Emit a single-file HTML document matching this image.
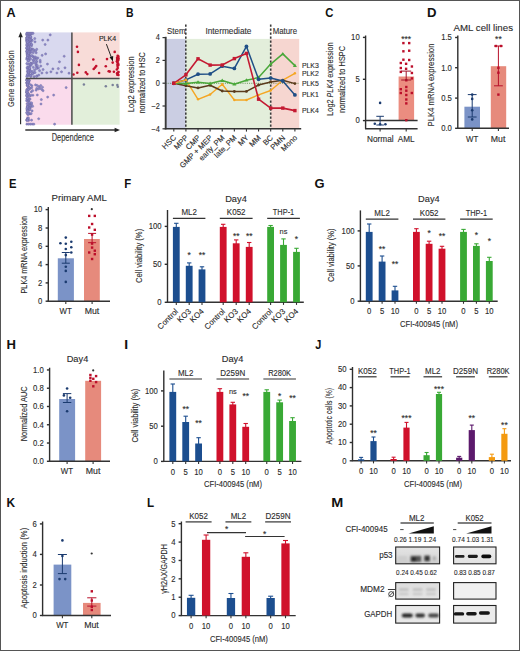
<!DOCTYPE html><html><head><meta charset="utf-8"><style>html,body{margin:0;padding:0;background:#fff;}svg{display:block;}text{font-family:"Liberation Sans",sans-serif;}</style></head><body>
<svg width="520" height="651" viewBox="0 0 520 651">
<rect x="0" y="0" width="520" height="651" fill="#fff"/>
<text x="6.6" y="17" font-size="12.2" fill="#111" font-weight="bold" textLength="9.13" lengthAdjust="spacingAndGlyphs">A</text>
<rect x="25.8" y="32.4" width="46.1" height="46" fill="#d9d9ef"/>
<rect x="71.9" y="32.4" width="47.7" height="46" fill="#f8dcd8"/>
<rect x="25.8" y="78.4" width="46.1" height="46.3" fill="#fadbec"/>
<rect x="71.9" y="78.4" width="47.7" height="46.3" fill="#e2efda"/>
<circle cx="29.14" cy="47.52" r="1.1" fill="#8d89cb" stroke="#6c689c" stroke-width="0.4"/>
<circle cx="30.13" cy="36.56" r="1.1" fill="#8d89cb" stroke="#6c689c" stroke-width="0.4"/>
<circle cx="27.86" cy="56.76" r="1.1" fill="#8d89cb" stroke="#6c689c" stroke-width="0.4"/>
<circle cx="27.37" cy="55.52" r="1.1" fill="#8d89cb" stroke="#6c689c" stroke-width="0.4"/>
<circle cx="27.64" cy="35.03" r="1.1" fill="#8d89cb" stroke="#6c689c" stroke-width="0.4"/>
<circle cx="27.06" cy="37.36" r="1.1" fill="#8d89cb" stroke="#6c689c" stroke-width="0.4"/>
<circle cx="27.32" cy="51.91" r="1.1" fill="#8d89cb" stroke="#6c689c" stroke-width="0.4"/>
<circle cx="27.97" cy="43.13" r="1.1" fill="#8d89cb" stroke="#6c689c" stroke-width="0.4"/>
<circle cx="33.43" cy="60.76" r="1.1" fill="#8d89cb" stroke="#6c689c" stroke-width="0.4"/>
<circle cx="27.87" cy="50.7" r="1.1" fill="#8d89cb" stroke="#6c689c" stroke-width="0.4"/>
<circle cx="37.01" cy="75.96" r="1.1" fill="#8d89cb" stroke="#6c689c" stroke-width="0.4"/>
<circle cx="28.31" cy="46.03" r="1.1" fill="#8d89cb" stroke="#6c689c" stroke-width="0.4"/>
<circle cx="28.5" cy="39.69" r="1.1" fill="#8d89cb" stroke="#6c689c" stroke-width="0.4"/>
<circle cx="29.79" cy="68.98" r="1.1" fill="#8d89cb" stroke="#6c689c" stroke-width="0.4"/>
<circle cx="30.33" cy="41.28" r="1.1" fill="#8d89cb" stroke="#6c689c" stroke-width="0.4"/>
<circle cx="28.7" cy="49.64" r="1.1" fill="#8d89cb" stroke="#6c689c" stroke-width="0.4"/>
<circle cx="28.38" cy="57.28" r="1.1" fill="#8d89cb" stroke="#6c689c" stroke-width="0.4"/>
<circle cx="27" cy="42.38" r="1.1" fill="#8d89cb" stroke="#6c689c" stroke-width="0.4"/>
<circle cx="30.89" cy="63.07" r="1.1" fill="#8d89cb" stroke="#6c689c" stroke-width="0.4"/>
<circle cx="28.7" cy="58.93" r="1.1" fill="#8d89cb" stroke="#6c689c" stroke-width="0.4"/>
<circle cx="28.24" cy="53.16" r="1.1" fill="#8d89cb" stroke="#6c689c" stroke-width="0.4"/>
<circle cx="35.91" cy="63.88" r="1.1" fill="#8d89cb" stroke="#6c689c" stroke-width="0.4"/>
<circle cx="29.87" cy="44.04" r="1.1" fill="#8d89cb" stroke="#6c689c" stroke-width="0.4"/>
<circle cx="29.63" cy="71.56" r="1.1" fill="#8d89cb" stroke="#6c689c" stroke-width="0.4"/>
<circle cx="30.24" cy="65.2" r="1.1" fill="#8d89cb" stroke="#6c689c" stroke-width="0.4"/>
<circle cx="34.76" cy="38.55" r="1.1" fill="#8d89cb" stroke="#6c689c" stroke-width="0.4"/>
<circle cx="26.68" cy="51.63" r="1.1" fill="#8d89cb" stroke="#6c689c" stroke-width="0.4"/>
<circle cx="28.32" cy="54.72" r="1.1" fill="#8d89cb" stroke="#6c689c" stroke-width="0.4"/>
<circle cx="29.11" cy="35.11" r="1.1" fill="#8d89cb" stroke="#6c689c" stroke-width="0.4"/>
<circle cx="34.75" cy="58.38" r="1.1" fill="#8d89cb" stroke="#6c689c" stroke-width="0.4"/>
<circle cx="29.91" cy="71.57" r="1.1" fill="#8d89cb" stroke="#6c689c" stroke-width="0.4"/>
<circle cx="34.41" cy="59.31" r="1.1" fill="#8d89cb" stroke="#6c689c" stroke-width="0.4"/>
<circle cx="36.73" cy="58.68" r="1.1" fill="#8d89cb" stroke="#6c689c" stroke-width="0.4"/>
<circle cx="29.46" cy="74.59" r="1.1" fill="#8d89cb" stroke="#6c689c" stroke-width="0.4"/>
<circle cx="27.15" cy="54.07" r="1.1" fill="#8d89cb" stroke="#6c689c" stroke-width="0.4"/>
<circle cx="28.27" cy="63.99" r="1.1" fill="#8d89cb" stroke="#6c689c" stroke-width="0.4"/>
<circle cx="36.81" cy="61.61" r="1.1" fill="#8d89cb" stroke="#6c689c" stroke-width="0.4"/>
<circle cx="26.84" cy="45.81" r="1.1" fill="#8d89cb" stroke="#6c689c" stroke-width="0.4"/>
<circle cx="26.91" cy="50.22" r="1.1" fill="#8d89cb" stroke="#6c689c" stroke-width="0.4"/>
<circle cx="27.16" cy="53.53" r="1.1" fill="#8d89cb" stroke="#6c689c" stroke-width="0.4"/>
<circle cx="27.38" cy="40.73" r="1.1" fill="#8d89cb" stroke="#6c689c" stroke-width="0.4"/>
<circle cx="27.89" cy="66.89" r="1.1" fill="#8d89cb" stroke="#6c689c" stroke-width="0.4"/>
<circle cx="26.64" cy="39.04" r="1.1" fill="#8d89cb" stroke="#6c689c" stroke-width="0.4"/>
<circle cx="32.08" cy="71.39" r="1.1" fill="#8d89cb" stroke="#6c689c" stroke-width="0.4"/>
<circle cx="30.2" cy="36.91" r="1.1" fill="#8d89cb" stroke="#6c689c" stroke-width="0.4"/>
<circle cx="28.78" cy="71.92" r="1.1" fill="#8d89cb" stroke="#6c689c" stroke-width="0.4"/>
<circle cx="29.52" cy="69.12" r="1.1" fill="#8d89cb" stroke="#6c689c" stroke-width="0.4"/>
<circle cx="28.43" cy="51.51" r="1.1" fill="#8d89cb" stroke="#6c689c" stroke-width="0.4"/>
<circle cx="32.24" cy="49.04" r="1.1" fill="#8d89cb" stroke="#6c689c" stroke-width="0.4"/>
<circle cx="31.62" cy="39.98" r="1.1" fill="#8d89cb" stroke="#6c689c" stroke-width="0.4"/>
<circle cx="26.85" cy="41.08" r="1.1" fill="#8d89cb" stroke="#6c689c" stroke-width="0.4"/>
<circle cx="28.77" cy="54.54" r="1.1" fill="#8d89cb" stroke="#6c689c" stroke-width="0.4"/>
<circle cx="26.64" cy="59.09" r="1.1" fill="#8d89cb" stroke="#6c689c" stroke-width="0.4"/>
<circle cx="26.87" cy="51.67" r="1.1" fill="#8d89cb" stroke="#6c689c" stroke-width="0.4"/>
<circle cx="33.39" cy="49.5" r="1.1" fill="#8d89cb" stroke="#6c689c" stroke-width="0.4"/>
<circle cx="32.11" cy="63.51" r="1.1" fill="#8d89cb" stroke="#6c689c" stroke-width="0.4"/>
<circle cx="29.93" cy="55.88" r="1.1" fill="#8d89cb" stroke="#6c689c" stroke-width="0.4"/>
<circle cx="29.63" cy="35.75" r="1.1" fill="#8d89cb" stroke="#6c689c" stroke-width="0.4"/>
<circle cx="28.7" cy="72.62" r="1.1" fill="#8d89cb" stroke="#6c689c" stroke-width="0.4"/>
<circle cx="37.61" cy="68.19" r="1.1" fill="#8d89cb" stroke="#6c689c" stroke-width="0.4"/>
<circle cx="27.73" cy="50.51" r="1.1" fill="#8d89cb" stroke="#6c689c" stroke-width="0.4"/>
<circle cx="28.12" cy="61.06" r="1.1" fill="#8d89cb" stroke="#6c689c" stroke-width="0.4"/>
<circle cx="28.47" cy="36.11" r="1.1" fill="#8d89cb" stroke="#6c689c" stroke-width="0.4"/>
<circle cx="27.44" cy="40.48" r="1.1" fill="#8d89cb" stroke="#6c689c" stroke-width="0.4"/>
<circle cx="26.66" cy="48.23" r="1.1" fill="#8d89cb" stroke="#6c689c" stroke-width="0.4"/>
<circle cx="26.62" cy="40" r="1.1" fill="#8d89cb" stroke="#6c689c" stroke-width="0.4"/>
<circle cx="27.05" cy="37.82" r="1.1" fill="#8d89cb" stroke="#6c689c" stroke-width="0.4"/>
<circle cx="27.54" cy="71.52" r="1.1" fill="#8d89cb" stroke="#6c689c" stroke-width="0.4"/>
<circle cx="29.1" cy="60.17" r="1.1" fill="#8d89cb" stroke="#6c689c" stroke-width="0.4"/>
<circle cx="28.44" cy="48.55" r="1.1" fill="#8d89cb" stroke="#6c689c" stroke-width="0.4"/>
<circle cx="30.78" cy="49.28" r="1.1" fill="#8d89cb" stroke="#6c689c" stroke-width="0.4"/>
<circle cx="34.06" cy="76.7" r="1.1" fill="#8d89cb" stroke="#6c689c" stroke-width="0.4"/>
<circle cx="27.86" cy="53.72" r="1.1" fill="#8d89cb" stroke="#6c689c" stroke-width="0.4"/>
<circle cx="26.73" cy="37.86" r="1.1" fill="#8d89cb" stroke="#6c689c" stroke-width="0.4"/>
<circle cx="27.12" cy="48.34" r="1.1" fill="#8d89cb" stroke="#6c689c" stroke-width="0.4"/>
<circle cx="32.21" cy="40.44" r="1.1" fill="#8d89cb" stroke="#6c689c" stroke-width="0.4"/>
<circle cx="30.1" cy="34.41" r="1.1" fill="#8d89cb" stroke="#6c689c" stroke-width="0.4"/>
<circle cx="27.71" cy="39.79" r="1.1" fill="#8d89cb" stroke="#6c689c" stroke-width="0.4"/>
<circle cx="33.24" cy="57.08" r="1.1" fill="#8d89cb" stroke="#6c689c" stroke-width="0.4"/>
<circle cx="27.74" cy="76.06" r="1.1" fill="#8d89cb" stroke="#6c689c" stroke-width="0.4"/>
<circle cx="28.02" cy="71.04" r="1.1" fill="#8d89cb" stroke="#6c689c" stroke-width="0.4"/>
<circle cx="28.8" cy="49.39" r="1.1" fill="#8d89cb" stroke="#6c689c" stroke-width="0.4"/>
<circle cx="27.11" cy="40.68" r="1.1" fill="#8d89cb" stroke="#6c689c" stroke-width="0.4"/>
<circle cx="33.32" cy="67.37" r="1.1" fill="#8d89cb" stroke="#6c689c" stroke-width="0.4"/>
<circle cx="27.52" cy="47.77" r="1.1" fill="#8d89cb" stroke="#6c689c" stroke-width="0.4"/>
<circle cx="36.5" cy="76.34" r="1.1" fill="#8d89cb" stroke="#6c689c" stroke-width="0.4"/>
<circle cx="30.11" cy="70.57" r="1.1" fill="#8d89cb" stroke="#6c689c" stroke-width="0.4"/>
<circle cx="36.13" cy="65.66" r="1.1" fill="#8d89cb" stroke="#6c689c" stroke-width="0.4"/>
<circle cx="29.4" cy="43.29" r="1.1" fill="#8d89cb" stroke="#6c689c" stroke-width="0.4"/>
<circle cx="26.91" cy="34.66" r="1.1" fill="#8d89cb" stroke="#6c689c" stroke-width="0.4"/>
<circle cx="27.03" cy="34.62" r="1.1" fill="#8d89cb" stroke="#6c689c" stroke-width="0.4"/>
<circle cx="30.79" cy="63.59" r="1.1" fill="#8d89cb" stroke="#6c689c" stroke-width="0.4"/>
<circle cx="38.83" cy="75.1" r="1.1" fill="#8d89cb" stroke="#6c689c" stroke-width="0.4"/>
<circle cx="30.81" cy="76.48" r="1.1" fill="#8d89cb" stroke="#6c689c" stroke-width="0.4"/>
<circle cx="29.16" cy="75.04" r="1.1" fill="#8d89cb" stroke="#6c689c" stroke-width="0.4"/>
<circle cx="28.19" cy="43.29" r="1.1" fill="#8d89cb" stroke="#6c689c" stroke-width="0.4"/>
<circle cx="27.79" cy="41.98" r="1.1" fill="#8d89cb" stroke="#6c689c" stroke-width="0.4"/>
<circle cx="33.98" cy="72.65" r="1.1" fill="#8d89cb" stroke="#6c689c" stroke-width="0.4"/>
<circle cx="34.54" cy="70.04" r="1.1" fill="#8d89cb" stroke="#6c689c" stroke-width="0.4"/>
<circle cx="27.63" cy="68.26" r="1.1" fill="#8d89cb" stroke="#6c689c" stroke-width="0.4"/>
<circle cx="30.11" cy="37.1" r="1.1" fill="#8d89cb" stroke="#6c689c" stroke-width="0.4"/>
<circle cx="36.81" cy="67.51" r="1.1" fill="#8d89cb" stroke="#6c689c" stroke-width="0.4"/>
<circle cx="30.02" cy="66.11" r="1.1" fill="#8d89cb" stroke="#6c689c" stroke-width="0.4"/>
<circle cx="27.07" cy="67.81" r="1.1" fill="#8d89cb" stroke="#6c689c" stroke-width="0.4"/>
<circle cx="29.11" cy="47.9" r="1.1" fill="#8d89cb" stroke="#6c689c" stroke-width="0.4"/>
<circle cx="34.2" cy="50.66" r="1.1" fill="#8d89cb" stroke="#6c689c" stroke-width="0.4"/>
<circle cx="31.15" cy="50.9" r="1.1" fill="#8d89cb" stroke="#6c689c" stroke-width="0.4"/>
<circle cx="28.18" cy="40.81" r="1.1" fill="#8d89cb" stroke="#6c689c" stroke-width="0.4"/>
<circle cx="30.39" cy="38.94" r="1.1" fill="#8d89cb" stroke="#6c689c" stroke-width="0.4"/>
<circle cx="36.3" cy="68.56" r="1.1" fill="#8d89cb" stroke="#6c689c" stroke-width="0.4"/>
<circle cx="30.49" cy="39.77" r="1.1" fill="#8d89cb" stroke="#6c689c" stroke-width="0.4"/>
<circle cx="40.27" cy="62.06" r="1.1" fill="#8d89cb" stroke="#6c689c" stroke-width="0.4"/>
<circle cx="28.12" cy="48.68" r="1.1" fill="#8d89cb" stroke="#6c689c" stroke-width="0.4"/>
<circle cx="27.08" cy="34.02" r="1.1" fill="#8d89cb" stroke="#6c689c" stroke-width="0.4"/>
<circle cx="30.56" cy="75.73" r="1.1" fill="#8d89cb" stroke="#6c689c" stroke-width="0.4"/>
<circle cx="32.03" cy="74.11" r="1.1" fill="#8d89cb" stroke="#6c689c" stroke-width="0.4"/>
<circle cx="30.49" cy="52.31" r="1.1" fill="#8d89cb" stroke="#6c689c" stroke-width="0.4"/>
<circle cx="30.65" cy="42.6" r="1.1" fill="#8d89cb" stroke="#6c689c" stroke-width="0.4"/>
<circle cx="27.19" cy="44.38" r="1.1" fill="#8d89cb" stroke="#6c689c" stroke-width="0.4"/>
<circle cx="30.53" cy="58.97" r="1.1" fill="#8d89cb" stroke="#6c689c" stroke-width="0.4"/>
<circle cx="27.99" cy="44.71" r="1.1" fill="#8d89cb" stroke="#6c689c" stroke-width="0.4"/>
<circle cx="28.02" cy="73.08" r="1.1" fill="#8d89cb" stroke="#6c689c" stroke-width="0.4"/>
<circle cx="30.43" cy="48.82" r="1.1" fill="#8d89cb" stroke="#6c689c" stroke-width="0.4"/>
<circle cx="28.49" cy="72.83" r="1.1" fill="#8d89cb" stroke="#6c689c" stroke-width="0.4"/>
<circle cx="29.68" cy="51.74" r="1.1" fill="#8d89cb" stroke="#6c689c" stroke-width="0.4"/>
<circle cx="29.81" cy="56.59" r="1.1" fill="#8d89cb" stroke="#6c689c" stroke-width="0.4"/>
<circle cx="32.48" cy="56.22" r="1.1" fill="#8d89cb" stroke="#6c689c" stroke-width="0.4"/>
<circle cx="26.98" cy="41.38" r="1.1" fill="#8d89cb" stroke="#6c689c" stroke-width="0.4"/>
<circle cx="27.16" cy="33.57" r="1.1" fill="#8d89cb" stroke="#6c689c" stroke-width="0.4"/>
<circle cx="28.36" cy="54.04" r="1.1" fill="#8d89cb" stroke="#6c689c" stroke-width="0.4"/>
<circle cx="31.18" cy="65.02" r="1.1" fill="#8d89cb" stroke="#6c689c" stroke-width="0.4"/>
<circle cx="28.3" cy="56" r="1.1" fill="#8d89cb" stroke="#6c689c" stroke-width="0.4"/>
<circle cx="27.16" cy="57.62" r="1.1" fill="#8d89cb" stroke="#6c689c" stroke-width="0.4"/>
<circle cx="29.14" cy="57.83" r="1.1" fill="#8d89cb" stroke="#6c689c" stroke-width="0.4"/>
<circle cx="27.47" cy="44.23" r="1.1" fill="#8d89cb" stroke="#6c689c" stroke-width="0.4"/>
<circle cx="31.69" cy="55.54" r="1.1" fill="#8d89cb" stroke="#6c689c" stroke-width="0.4"/>
<circle cx="27.36" cy="57.89" r="1.1" fill="#8d89cb" stroke="#6c689c" stroke-width="0.4"/>
<circle cx="33.21" cy="52.73" r="1.1" fill="#8d89cb" stroke="#6c689c" stroke-width="0.4"/>
<circle cx="33.19" cy="60.11" r="1.1" fill="#8d89cb" stroke="#6c689c" stroke-width="0.4"/>
<circle cx="26.83" cy="63.6" r="1.1" fill="#8d89cb" stroke="#6c689c" stroke-width="0.4"/>
<circle cx="29.95" cy="53.12" r="1.1" fill="#8d89cb" stroke="#6c689c" stroke-width="0.4"/>
<circle cx="27.9" cy="74.45" r="1.1" fill="#8d89cb" stroke="#6c689c" stroke-width="0.4"/>
<circle cx="35.97" cy="63.89" r="1.1" fill="#8d89cb" stroke="#6c689c" stroke-width="0.4"/>
<circle cx="31.62" cy="44.72" r="1.1" fill="#8d89cb" stroke="#6c689c" stroke-width="0.4"/>
<circle cx="36.47" cy="57.79" r="1.1" fill="#8d89cb" stroke="#6c689c" stroke-width="0.4"/>
<circle cx="28.6" cy="39.38" r="1.1" fill="#8d89cb" stroke="#6c689c" stroke-width="0.4"/>
<circle cx="27.69" cy="38.7" r="1.1" fill="#8d89cb" stroke="#6c689c" stroke-width="0.4"/>
<circle cx="27.01" cy="43.89" r="1.1" fill="#8d89cb" stroke="#6c689c" stroke-width="0.4"/>
<circle cx="29.15" cy="36.59" r="1.1" fill="#8d89cb" stroke="#6c689c" stroke-width="0.4"/>
<circle cx="35.02" cy="72.51" r="1.1" fill="#8d89cb" stroke="#6c689c" stroke-width="0.4"/>
<circle cx="27.53" cy="40.13" r="1.1" fill="#8d89cb" stroke="#6c689c" stroke-width="0.4"/>
<circle cx="30.91" cy="39.63" r="1.1" fill="#8d89cb" stroke="#6c689c" stroke-width="0.4"/>
<circle cx="30.39" cy="71.89" r="1.1" fill="#8d89cb" stroke="#6c689c" stroke-width="0.4"/>
<circle cx="27.38" cy="74.93" r="1.1" fill="#8d89cb" stroke="#6c689c" stroke-width="0.4"/>
<circle cx="35.66" cy="50.76" r="1.1" fill="#8d89cb" stroke="#6c689c" stroke-width="0.4"/>
<circle cx="27.93" cy="69.69" r="1.1" fill="#8d89cb" stroke="#6c689c" stroke-width="0.4"/>
<circle cx="29.88" cy="40.44" r="1.1" fill="#8d89cb" stroke="#6c689c" stroke-width="0.4"/>
<circle cx="28.11" cy="48.19" r="1.1" fill="#8d89cb" stroke="#6c689c" stroke-width="0.4"/>
<circle cx="28.6" cy="41.93" r="1.1" fill="#8d89cb" stroke="#6c689c" stroke-width="0.4"/>
<circle cx="30.96" cy="34.25" r="1.1" fill="#8d89cb" stroke="#6c689c" stroke-width="0.4"/>
<circle cx="27.58" cy="57.56" r="1.1" fill="#8d89cb" stroke="#6c689c" stroke-width="0.4"/>
<circle cx="26.81" cy="47.85" r="1.1" fill="#8d89cb" stroke="#6c689c" stroke-width="0.4"/>
<circle cx="28.6" cy="60.6" r="1.1" fill="#8d89cb" stroke="#6c689c" stroke-width="0.4"/>
<circle cx="26.75" cy="76.35" r="1.1" fill="#8d89cb" stroke="#6c689c" stroke-width="0.4"/>
<circle cx="29.15" cy="67.77" r="1.1" fill="#8d89cb" stroke="#6c689c" stroke-width="0.4"/>
<circle cx="26.85" cy="44.98" r="1.1" fill="#8d89cb" stroke="#6c689c" stroke-width="0.4"/>
<circle cx="27.03" cy="35.13" r="1.1" fill="#8d89cb" stroke="#6c689c" stroke-width="0.4"/>
<circle cx="28.94" cy="39.05" r="1.1" fill="#8d89cb" stroke="#6c689c" stroke-width="0.4"/>
<circle cx="31.31" cy="51.81" r="1.1" fill="#8d89cb" stroke="#6c689c" stroke-width="0.4"/>
<circle cx="29.53" cy="44.68" r="1.1" fill="#8d89cb" stroke="#6c689c" stroke-width="0.4"/>
<circle cx="30.01" cy="39.91" r="1.1" fill="#8d89cb" stroke="#6c689c" stroke-width="0.4"/>
<circle cx="30.08" cy="63.94" r="1.1" fill="#8d89cb" stroke="#6c689c" stroke-width="0.4"/>
<circle cx="30.88" cy="37.3" r="1.1" fill="#8d89cb" stroke="#6c689c" stroke-width="0.4"/>
<circle cx="28.22" cy="51.94" r="1.1" fill="#8d89cb" stroke="#6c689c" stroke-width="0.4"/>
<circle cx="30.54" cy="36.56" r="1.1" fill="#8d89cb" stroke="#6c689c" stroke-width="0.4"/>
<circle cx="29.55" cy="68.35" r="1.1" fill="#8d89cb" stroke="#6c689c" stroke-width="0.4"/>
<circle cx="27.29" cy="37.05" r="1.1" fill="#8d89cb" stroke="#6c689c" stroke-width="0.4"/>
<circle cx="28.2" cy="71.02" r="1.1" fill="#8d89cb" stroke="#6c689c" stroke-width="0.4"/>
<circle cx="28.62" cy="53.18" r="1.1" fill="#8d89cb" stroke="#6c689c" stroke-width="0.4"/>
<circle cx="32.51" cy="73.8" r="1.1" fill="#8d89cb" stroke="#6c689c" stroke-width="0.4"/>
<circle cx="29.13" cy="45.08" r="1.1" fill="#8d89cb" stroke="#6c689c" stroke-width="0.4"/>
<circle cx="29.26" cy="43.8" r="1.1" fill="#8d89cb" stroke="#6c689c" stroke-width="0.4"/>
<circle cx="27.11" cy="38.17" r="1.1" fill="#8d89cb" stroke="#6c689c" stroke-width="0.4"/>
<circle cx="27.42" cy="42.2" r="1.1" fill="#8d89cb" stroke="#6c689c" stroke-width="0.4"/>
<circle cx="28.32" cy="47" r="1.1" fill="#8d89cb" stroke="#6c689c" stroke-width="0.4"/>
<circle cx="31.37" cy="46.04" r="1.1" fill="#8d89cb" stroke="#6c689c" stroke-width="0.4"/>
<circle cx="27.81" cy="55.2" r="1.1" fill="#8d89cb" stroke="#6c689c" stroke-width="0.4"/>
<circle cx="29.09" cy="34.19" r="1.1" fill="#8d89cb" stroke="#6c689c" stroke-width="0.4"/>
<circle cx="31.45" cy="44.32" r="1.1" fill="#8d89cb" stroke="#6c689c" stroke-width="0.4"/>
<circle cx="27.46" cy="57.43" r="1.1" fill="#8d89cb" stroke="#6c689c" stroke-width="0.4"/>
<circle cx="26.8" cy="33.3" r="1.1" fill="#8d89cb" stroke="#6c689c" stroke-width="0.4"/>
<circle cx="27.7" cy="33.3" r="1.1" fill="#8d89cb" stroke="#6c689c" stroke-width="0.4"/>
<circle cx="28.6" cy="33.3" r="1.1" fill="#8d89cb" stroke="#6c689c" stroke-width="0.4"/>
<circle cx="29.5" cy="33.3" r="1.1" fill="#8d89cb" stroke="#6c689c" stroke-width="0.4"/>
<circle cx="30.4" cy="33.3" r="1.1" fill="#8d89cb" stroke="#6c689c" stroke-width="0.4"/>
<circle cx="31.3" cy="33.3" r="1.1" fill="#8d89cb" stroke="#6c689c" stroke-width="0.4"/>
<circle cx="32.2" cy="33.3" r="1.1" fill="#8d89cb" stroke="#6c689c" stroke-width="0.4"/>
<circle cx="33.1" cy="33.3" r="1.1" fill="#8d89cb" stroke="#6c689c" stroke-width="0.4"/>
<circle cx="50.22" cy="34.92" r="1.1" fill="#8d89cb" stroke="#6c689c" stroke-width="0.4"/>
<circle cx="42.72" cy="40.11" r="1.1" fill="#8d89cb" stroke="#6c689c" stroke-width="0.4"/>
<circle cx="47.91" cy="40.11" r="1.1" fill="#8d89cb" stroke="#6c689c" stroke-width="0.4"/>
<circle cx="45.14" cy="44.49" r="1.1" fill="#8d89cb" stroke="#6c689c" stroke-width="0.4"/>
<circle cx="36.72" cy="49.34" r="1.1" fill="#8d89cb" stroke="#6c689c" stroke-width="0.4"/>
<circle cx="42.15" cy="55.34" r="1.1" fill="#8d89cb" stroke="#6c689c" stroke-width="0.4"/>
<circle cx="45.61" cy="53.95" r="1.1" fill="#8d89cb" stroke="#6c689c" stroke-width="0.4"/>
<circle cx="64.18" cy="56.26" r="1.1" fill="#8d89cb" stroke="#6c689c" stroke-width="0.4"/>
<circle cx="59.45" cy="61.79" r="1.1" fill="#8d89cb" stroke="#6c689c" stroke-width="0.4"/>
<circle cx="47.45" cy="64.1" r="1.1" fill="#8d89cb" stroke="#6c689c" stroke-width="0.4"/>
<circle cx="37.3" cy="65.49" r="1.1" fill="#8d89cb" stroke="#6c689c" stroke-width="0.4"/>
<circle cx="38.45" cy="67.79" r="1.1" fill="#8d89cb" stroke="#6c689c" stroke-width="0.4"/>
<circle cx="52.87" cy="68.95" r="1.1" fill="#8d89cb" stroke="#6c689c" stroke-width="0.4"/>
<circle cx="58.29" cy="68.6" r="1.1" fill="#8d89cb" stroke="#6c689c" stroke-width="0.4"/>
<circle cx="64.98" cy="67.79" r="1.1" fill="#8d89cb" stroke="#6c689c" stroke-width="0.4"/>
<circle cx="61.52" cy="71.83" r="1.1" fill="#8d89cb" stroke="#6c689c" stroke-width="0.4"/>
<circle cx="50.91" cy="71.83" r="1.1" fill="#8d89cb" stroke="#6c689c" stroke-width="0.4"/>
<circle cx="46.76" cy="72.75" r="1.1" fill="#8d89cb" stroke="#6c689c" stroke-width="0.4"/>
<circle cx="56.91" cy="72.98" r="1.1" fill="#8d89cb" stroke="#6c689c" stroke-width="0.4"/>
<circle cx="41.91" cy="72.98" r="1.1" fill="#8d89cb" stroke="#6c689c" stroke-width="0.4"/>
<circle cx="69.02" cy="73.21" r="1.1" fill="#8d89cb" stroke="#6c689c" stroke-width="0.4"/>
<circle cx="39.61" cy="70.68" r="1.1" fill="#8d89cb" stroke="#6c689c" stroke-width="0.4"/>
<circle cx="40.18" cy="60.3" r="1.1" fill="#8d89cb" stroke="#6c689c" stroke-width="0.4"/>
<circle cx="37.88" cy="57.99" r="1.1" fill="#8d89cb" stroke="#6c689c" stroke-width="0.4"/>
<circle cx="36.15" cy="52.8" r="1.1" fill="#8d89cb" stroke="#6c689c" stroke-width="0.4"/>
<circle cx="34.99" cy="41.84" r="1.1" fill="#8d89cb" stroke="#6c689c" stroke-width="0.4"/>
<circle cx="33.84" cy="62.6" r="1.1" fill="#8d89cb" stroke="#6c689c" stroke-width="0.4"/>
<circle cx="43.07" cy="69.52" r="1.1" fill="#8d89cb" stroke="#6c689c" stroke-width="0.4"/>
<circle cx="40.76" cy="66.06" r="1.1" fill="#8d89cb" stroke="#6c689c" stroke-width="0.4"/>
<circle cx="36.15" cy="61.45" r="1.1" fill="#8d89cb" stroke="#6c689c" stroke-width="0.4"/>
<circle cx="34.99" cy="56.84" r="1.1" fill="#8d89cb" stroke="#6c689c" stroke-width="0.4"/>
<circle cx="31.67" cy="87.77" r="1.1" fill="#8d89cb" stroke="#6c689c" stroke-width="0.4"/>
<circle cx="27.41" cy="84.36" r="1.1" fill="#8d89cb" stroke="#6c689c" stroke-width="0.4"/>
<circle cx="28.94" cy="113.58" r="1.1" fill="#8d89cb" stroke="#6c689c" stroke-width="0.4"/>
<circle cx="27.66" cy="114.22" r="1.1" fill="#8d89cb" stroke="#6c689c" stroke-width="0.4"/>
<circle cx="29.95" cy="96.12" r="1.1" fill="#8d89cb" stroke="#6c689c" stroke-width="0.4"/>
<circle cx="26.74" cy="120.28" r="1.1" fill="#8d89cb" stroke="#6c689c" stroke-width="0.4"/>
<circle cx="28.3" cy="94.05" r="1.1" fill="#8d89cb" stroke="#6c689c" stroke-width="0.4"/>
<circle cx="29.6" cy="106.08" r="1.1" fill="#8d89cb" stroke="#6c689c" stroke-width="0.4"/>
<circle cx="27.02" cy="96.59" r="1.1" fill="#8d89cb" stroke="#6c689c" stroke-width="0.4"/>
<circle cx="27.2" cy="85.32" r="1.1" fill="#8d89cb" stroke="#6c689c" stroke-width="0.4"/>
<circle cx="26.7" cy="82.9" r="1.1" fill="#8d89cb" stroke="#6c689c" stroke-width="0.4"/>
<circle cx="28.29" cy="86.69" r="1.1" fill="#8d89cb" stroke="#6c689c" stroke-width="0.4"/>
<circle cx="29.01" cy="83.46" r="1.1" fill="#8d89cb" stroke="#6c689c" stroke-width="0.4"/>
<circle cx="30.34" cy="107.49" r="1.1" fill="#8d89cb" stroke="#6c689c" stroke-width="0.4"/>
<circle cx="26.69" cy="91.56" r="1.1" fill="#8d89cb" stroke="#6c689c" stroke-width="0.4"/>
<circle cx="28.43" cy="98.84" r="1.1" fill="#8d89cb" stroke="#6c689c" stroke-width="0.4"/>
<circle cx="28.22" cy="86.46" r="1.1" fill="#8d89cb" stroke="#6c689c" stroke-width="0.4"/>
<circle cx="27.17" cy="119.43" r="1.1" fill="#8d89cb" stroke="#6c689c" stroke-width="0.4"/>
<circle cx="28.18" cy="119.88" r="1.1" fill="#8d89cb" stroke="#6c689c" stroke-width="0.4"/>
<circle cx="27.08" cy="119.59" r="1.1" fill="#8d89cb" stroke="#6c689c" stroke-width="0.4"/>
<circle cx="26.66" cy="92.69" r="1.1" fill="#8d89cb" stroke="#6c689c" stroke-width="0.4"/>
<circle cx="26.68" cy="95.65" r="1.1" fill="#8d89cb" stroke="#6c689c" stroke-width="0.4"/>
<circle cx="28.07" cy="99.46" r="1.1" fill="#8d89cb" stroke="#6c689c" stroke-width="0.4"/>
<circle cx="26.63" cy="100.69" r="1.1" fill="#8d89cb" stroke="#6c689c" stroke-width="0.4"/>
<circle cx="26.68" cy="80.2" r="1.1" fill="#8d89cb" stroke="#6c689c" stroke-width="0.4"/>
<circle cx="27.55" cy="96.38" r="1.1" fill="#8d89cb" stroke="#6c689c" stroke-width="0.4"/>
<circle cx="28.46" cy="81.71" r="1.1" fill="#8d89cb" stroke="#6c689c" stroke-width="0.4"/>
<circle cx="26.86" cy="89.55" r="1.1" fill="#8d89cb" stroke="#6c689c" stroke-width="0.4"/>
<circle cx="30.2" cy="104.01" r="1.1" fill="#8d89cb" stroke="#6c689c" stroke-width="0.4"/>
<circle cx="27.27" cy="106.96" r="1.1" fill="#8d89cb" stroke="#6c689c" stroke-width="0.4"/>
<circle cx="28.18" cy="109.36" r="1.1" fill="#8d89cb" stroke="#6c689c" stroke-width="0.4"/>
<circle cx="28.11" cy="93.37" r="1.1" fill="#8d89cb" stroke="#6c689c" stroke-width="0.4"/>
<circle cx="28.69" cy="120.37" r="1.1" fill="#8d89cb" stroke="#6c689c" stroke-width="0.4"/>
<circle cx="29.45" cy="106.37" r="1.1" fill="#8d89cb" stroke="#6c689c" stroke-width="0.4"/>
<circle cx="28.97" cy="81.8" r="1.1" fill="#8d89cb" stroke="#6c689c" stroke-width="0.4"/>
<circle cx="30.59" cy="105.72" r="1.1" fill="#8d89cb" stroke="#6c689c" stroke-width="0.4"/>
<circle cx="27.06" cy="110.09" r="1.1" fill="#8d89cb" stroke="#6c689c" stroke-width="0.4"/>
<circle cx="27.71" cy="101.47" r="1.1" fill="#8d89cb" stroke="#6c689c" stroke-width="0.4"/>
<circle cx="28.62" cy="100.68" r="1.1" fill="#8d89cb" stroke="#6c689c" stroke-width="0.4"/>
<circle cx="30.02" cy="113.88" r="1.1" fill="#8d89cb" stroke="#6c689c" stroke-width="0.4"/>
<circle cx="29.21" cy="103.95" r="1.1" fill="#8d89cb" stroke="#6c689c" stroke-width="0.4"/>
<circle cx="28.68" cy="108.43" r="1.1" fill="#8d89cb" stroke="#6c689c" stroke-width="0.4"/>
<circle cx="27.75" cy="89.43" r="1.1" fill="#8d89cb" stroke="#6c689c" stroke-width="0.4"/>
<circle cx="26.83" cy="94.79" r="1.1" fill="#8d89cb" stroke="#6c689c" stroke-width="0.4"/>
<circle cx="28.04" cy="84.3" r="1.1" fill="#8d89cb" stroke="#6c689c" stroke-width="0.4"/>
<circle cx="29.01" cy="105.74" r="1.1" fill="#8d89cb" stroke="#6c689c" stroke-width="0.4"/>
<circle cx="27.68" cy="105.68" r="1.1" fill="#8d89cb" stroke="#6c689c" stroke-width="0.4"/>
<circle cx="28.91" cy="80.14" r="1.1" fill="#8d89cb" stroke="#6c689c" stroke-width="0.4"/>
<circle cx="26.63" cy="112.71" r="1.1" fill="#8d89cb" stroke="#6c689c" stroke-width="0.4"/>
<circle cx="29.2" cy="101.94" r="1.1" fill="#8d89cb" stroke="#6c689c" stroke-width="0.4"/>
<circle cx="29.89" cy="107.03" r="1.1" fill="#8d89cb" stroke="#6c689c" stroke-width="0.4"/>
<circle cx="28.05" cy="90.34" r="1.1" fill="#8d89cb" stroke="#6c689c" stroke-width="0.4"/>
<circle cx="26.95" cy="83.05" r="1.1" fill="#8d89cb" stroke="#6c689c" stroke-width="0.4"/>
<circle cx="30.14" cy="88.41" r="1.1" fill="#8d89cb" stroke="#6c689c" stroke-width="0.4"/>
<circle cx="29.14" cy="110.33" r="1.1" fill="#8d89cb" stroke="#6c689c" stroke-width="0.4"/>
<circle cx="26.99" cy="95.68" r="1.1" fill="#8d89cb" stroke="#6c689c" stroke-width="0.4"/>
<circle cx="28.12" cy="99.64" r="1.1" fill="#8d89cb" stroke="#6c689c" stroke-width="0.4"/>
<circle cx="30.03" cy="105.3" r="1.1" fill="#8d89cb" stroke="#6c689c" stroke-width="0.4"/>
<circle cx="27.7" cy="106.35" r="1.1" fill="#8d89cb" stroke="#6c689c" stroke-width="0.4"/>
<circle cx="27.18" cy="90.41" r="1.1" fill="#8d89cb" stroke="#6c689c" stroke-width="0.4"/>
<circle cx="27.56" cy="110.47" r="1.1" fill="#8d89cb" stroke="#6c689c" stroke-width="0.4"/>
<circle cx="29.28" cy="80.51" r="1.1" fill="#8d89cb" stroke="#6c689c" stroke-width="0.4"/>
<circle cx="26.99" cy="82.49" r="1.1" fill="#8d89cb" stroke="#6c689c" stroke-width="0.4"/>
<circle cx="29.86" cy="108.38" r="1.1" fill="#8d89cb" stroke="#6c689c" stroke-width="0.4"/>
<circle cx="27.27" cy="107.7" r="1.1" fill="#8d89cb" stroke="#6c689c" stroke-width="0.4"/>
<circle cx="29.17" cy="99.05" r="1.1" fill="#8d89cb" stroke="#6c689c" stroke-width="0.4"/>
<circle cx="30.03" cy="99.12" r="1.1" fill="#8d89cb" stroke="#6c689c" stroke-width="0.4"/>
<circle cx="29.76" cy="88.17" r="1.1" fill="#8d89cb" stroke="#6c689c" stroke-width="0.4"/>
<circle cx="26.98" cy="120.1" r="1.1" fill="#8d89cb" stroke="#6c689c" stroke-width="0.4"/>
<circle cx="26.76" cy="98.82" r="1.1" fill="#8d89cb" stroke="#6c689c" stroke-width="0.4"/>
<circle cx="28.96" cy="113.62" r="1.1" fill="#8d89cb" stroke="#6c689c" stroke-width="0.4"/>
<circle cx="27.08" cy="91.01" r="1.1" fill="#8d89cb" stroke="#6c689c" stroke-width="0.4"/>
<circle cx="28.03" cy="88.6" r="1.1" fill="#8d89cb" stroke="#6c689c" stroke-width="0.4"/>
<circle cx="27.11" cy="103.84" r="1.1" fill="#8d89cb" stroke="#6c689c" stroke-width="0.4"/>
<circle cx="31.97" cy="85.81" r="1.1" fill="#8d89cb" stroke="#6c689c" stroke-width="0.4"/>
<circle cx="27.42" cy="85.44" r="1.1" fill="#8d89cb" stroke="#6c689c" stroke-width="0.4"/>
<circle cx="31.19" cy="113.63" r="1.1" fill="#8d89cb" stroke="#6c689c" stroke-width="0.4"/>
<circle cx="26.85" cy="108.84" r="1.1" fill="#8d89cb" stroke="#6c689c" stroke-width="0.4"/>
<circle cx="28.63" cy="89.49" r="1.1" fill="#8d89cb" stroke="#6c689c" stroke-width="0.4"/>
<circle cx="28.12" cy="81.02" r="1.1" fill="#8d89cb" stroke="#6c689c" stroke-width="0.4"/>
<circle cx="29.01" cy="80.15" r="1.1" fill="#8d89cb" stroke="#6c689c" stroke-width="0.4"/>
<circle cx="26.73" cy="92.38" r="1.1" fill="#8d89cb" stroke="#6c689c" stroke-width="0.4"/>
<circle cx="27.67" cy="85.77" r="1.1" fill="#8d89cb" stroke="#6c689c" stroke-width="0.4"/>
<circle cx="28.19" cy="114.45" r="1.1" fill="#8d89cb" stroke="#6c689c" stroke-width="0.4"/>
<circle cx="26.62" cy="80.07" r="1.1" fill="#8d89cb" stroke="#6c689c" stroke-width="0.4"/>
<circle cx="30.81" cy="84.92" r="1.1" fill="#8d89cb" stroke="#6c689c" stroke-width="0.4"/>
<circle cx="27.69" cy="117.98" r="1.1" fill="#8d89cb" stroke="#6c689c" stroke-width="0.4"/>
<circle cx="31.21" cy="91.88" r="1.1" fill="#8d89cb" stroke="#6c689c" stroke-width="0.4"/>
<circle cx="32.91" cy="95.26" r="1.1" fill="#8d89cb" stroke="#6c689c" stroke-width="0.4"/>
<circle cx="31.63" cy="104.16" r="1.1" fill="#8d89cb" stroke="#6c689c" stroke-width="0.4"/>
<circle cx="28.19" cy="94.79" r="1.1" fill="#8d89cb" stroke="#6c689c" stroke-width="0.4"/>
<circle cx="27.37" cy="81.98" r="1.1" fill="#8d89cb" stroke="#6c689c" stroke-width="0.4"/>
<circle cx="27.52" cy="84.17" r="1.1" fill="#8d89cb" stroke="#6c689c" stroke-width="0.4"/>
<circle cx="28.15" cy="118.36" r="1.1" fill="#8d89cb" stroke="#6c689c" stroke-width="0.4"/>
<circle cx="26.86" cy="90.22" r="1.1" fill="#8d89cb" stroke="#6c689c" stroke-width="0.4"/>
<circle cx="29.22" cy="87.78" r="1.1" fill="#8d89cb" stroke="#6c689c" stroke-width="0.4"/>
<circle cx="31" cy="95.31" r="1.1" fill="#8d89cb" stroke="#6c689c" stroke-width="0.4"/>
<circle cx="27.84" cy="113.29" r="1.1" fill="#8d89cb" stroke="#6c689c" stroke-width="0.4"/>
<circle cx="31.07" cy="105.87" r="1.1" fill="#8d89cb" stroke="#6c689c" stroke-width="0.4"/>
<circle cx="29.31" cy="102.52" r="1.1" fill="#8d89cb" stroke="#6c689c" stroke-width="0.4"/>
<circle cx="30" cy="109.5" r="1.1" fill="#8d89cb" stroke="#6c689c" stroke-width="0.4"/>
<circle cx="27.69" cy="98.49" r="1.1" fill="#8d89cb" stroke="#6c689c" stroke-width="0.4"/>
<circle cx="27.71" cy="110.86" r="1.1" fill="#8d89cb" stroke="#6c689c" stroke-width="0.4"/>
<circle cx="28.02" cy="82.01" r="1.1" fill="#8d89cb" stroke="#6c689c" stroke-width="0.4"/>
<circle cx="28.33" cy="118" r="1.1" fill="#8d89cb" stroke="#6c689c" stroke-width="0.4"/>
<circle cx="28.38" cy="94.09" r="1.1" fill="#8d89cb" stroke="#6c689c" stroke-width="0.4"/>
<circle cx="27.01" cy="92.21" r="1.1" fill="#8d89cb" stroke="#6c689c" stroke-width="0.4"/>
<circle cx="32.6" cy="90.67" r="1.1" fill="#8d89cb" stroke="#6c689c" stroke-width="0.4"/>
<circle cx="27.48" cy="106.9" r="1.1" fill="#8d89cb" stroke="#6c689c" stroke-width="0.4"/>
<circle cx="29.27" cy="96.17" r="1.1" fill="#8d89cb" stroke="#6c689c" stroke-width="0.4"/>
<circle cx="35.57" cy="84.96" r="1.1" fill="#8d89cb" stroke="#6c689c" stroke-width="0.4"/>
<circle cx="37.3" cy="85.53" r="1.1" fill="#8d89cb" stroke="#6c689c" stroke-width="0.4"/>
<circle cx="39.03" cy="86.69" r="1.1" fill="#8d89cb" stroke="#6c689c" stroke-width="0.4"/>
<circle cx="40.76" cy="85.53" r="1.1" fill="#8d89cb" stroke="#6c689c" stroke-width="0.4"/>
<circle cx="42.49" cy="87.26" r="1.1" fill="#8d89cb" stroke="#6c689c" stroke-width="0.4"/>
<circle cx="36.72" cy="88.42" r="1.1" fill="#8d89cb" stroke="#6c689c" stroke-width="0.4"/>
<circle cx="38.45" cy="88.99" r="1.1" fill="#8d89cb" stroke="#6c689c" stroke-width="0.4"/>
<circle cx="40.18" cy="88.42" r="1.1" fill="#8d89cb" stroke="#6c689c" stroke-width="0.4"/>
<circle cx="41.91" cy="89.57" r="1.1" fill="#8d89cb" stroke="#6c689c" stroke-width="0.4"/>
<circle cx="36.15" cy="90.15" r="1.1" fill="#8d89cb" stroke="#6c689c" stroke-width="0.4"/>
<circle cx="43.07" cy="90.72" r="1.1" fill="#8d89cb" stroke="#6c689c" stroke-width="0.4"/>
<circle cx="37.3" cy="94.99" r="1.1" fill="#8d89cb" stroke="#6c689c" stroke-width="0.4"/>
<circle cx="66.14" cy="87.61" r="1.1" fill="#8d89cb" stroke="#6c689c" stroke-width="0.4"/>
<circle cx="53.68" cy="95.11" r="1.1" fill="#8d89cb" stroke="#6c689c" stroke-width="0.4"/>
<circle cx="47.68" cy="97.07" r="1.1" fill="#8d89cb" stroke="#6c689c" stroke-width="0.4"/>
<circle cx="41.34" cy="99.61" r="1.1" fill="#8d89cb" stroke="#6c689c" stroke-width="0.4"/>
<circle cx="40.99" cy="103.99" r="1.1" fill="#8d89cb" stroke="#6c689c" stroke-width="0.4"/>
<circle cx="38.69" cy="118.75" r="1.1" fill="#8d89cb" stroke="#6c689c" stroke-width="0.4"/>
<circle cx="27.5" cy="120.14" r="1.1" fill="#8d89cb" stroke="#6c689c" stroke-width="0.4"/>
<circle cx="31.53" cy="120.14" r="1.1" fill="#8d89cb" stroke="#6c689c" stroke-width="0.4"/>
<circle cx="26.92" cy="124.17" r="1.1" fill="#8d89cb" stroke="#6c689c" stroke-width="0.4"/>
<circle cx="28.65" cy="124.17" r="1.1" fill="#8d89cb" stroke="#6c689c" stroke-width="0.4"/>
<circle cx="30.38" cy="124.17" r="1.1" fill="#8d89cb" stroke="#6c689c" stroke-width="0.4"/>
<circle cx="32.11" cy="124.17" r="1.1" fill="#8d89cb" stroke="#6c689c" stroke-width="0.4"/>
<circle cx="33.84" cy="124.17" r="1.1" fill="#8d89cb" stroke="#6c689c" stroke-width="0.4"/>
<circle cx="54.6" cy="124.17" r="1.1" fill="#8d89cb" stroke="#6c689c" stroke-width="0.4"/>
<circle cx="32.69" cy="106.3" r="1.1" fill="#8d89cb" stroke="#6c689c" stroke-width="0.4"/>
<circle cx="32.11" cy="110.91" r="1.1" fill="#8d89cb" stroke="#6c689c" stroke-width="0.4"/>
<circle cx="31.53" cy="102.84" r="1.1" fill="#8d89cb" stroke="#6c689c" stroke-width="0.4"/>
<circle cx="83.9" cy="84.5" r="1.25" fill="#7a8199"/>
<circle cx="105.8" cy="86.2" r="1.25" fill="#7a8199"/>
<circle cx="112.7" cy="85.1" r="1.25" fill="#7a8199"/>
<circle cx="117.3" cy="85.1" r="1.25" fill="#7a8199"/>
<circle cx="117.8" cy="86.8" r="1.25" fill="#7a8199"/>
<circle cx="77" cy="46.7" r="1.3" fill="#c2102c"/>
<circle cx="77.9" cy="51.9" r="1.3" fill="#c2102c"/>
<circle cx="78.9" cy="64.9" r="1.3" fill="#c2102c"/>
<circle cx="77.3" cy="72.8" r="1.3" fill="#c2102c"/>
<circle cx="93.3" cy="59.5" r="1.3" fill="#c2102c"/>
<circle cx="85.8" cy="72.4" r="1.3" fill="#c2102c"/>
<circle cx="87.3" cy="74.1" r="1.3" fill="#c2102c"/>
<circle cx="93.7" cy="69" r="1.3" fill="#c2102c"/>
<circle cx="96.2" cy="66.1" r="1.3" fill="#c2102c"/>
<circle cx="95" cy="67.6" r="1.3" fill="#c2102c"/>
<circle cx="99.1" cy="73" r="1.3" fill="#c2102c"/>
<circle cx="105.8" cy="66.3" r="1.3" fill="#c2102c"/>
<circle cx="107" cy="59.1" r="1.3" fill="#c2102c"/>
<circle cx="108.7" cy="71.3" r="1.3" fill="#c2102c"/>
<circle cx="109.8" cy="71.6" r="1.3" fill="#c2102c"/>
<circle cx="112.7" cy="62.6" r="1.3" fill="#c2102c"/>
<circle cx="114.7" cy="51.9" r="1.3" fill="#c2102c"/>
<circle cx="117.7" cy="55.7" r="1.3" fill="#c2102c"/>
<circle cx="113.9" cy="71.8" r="1.3" fill="#c2102c"/>
<circle cx="117.3" cy="74.7" r="1.3" fill="#c2102c"/>
<circle cx="73.5" cy="74.5" r="1.3" fill="#c2102c"/>
<circle cx="117.1" cy="59.07" r="1.3" fill="#c2102c"/>
<circle cx="117.17" cy="73.21" r="1.3" fill="#c2102c"/>
<circle cx="117.69" cy="60.18" r="1.3" fill="#c2102c"/>
<circle cx="118.43" cy="74.93" r="1.3" fill="#c2102c"/>
<circle cx="117.61" cy="58.65" r="1.3" fill="#c2102c"/>
<circle cx="117.15" cy="57.72" r="1.3" fill="#c2102c"/>
<circle cx="117.42" cy="57.73" r="1.3" fill="#c2102c"/>
<circle cx="117.23" cy="60.91" r="1.3" fill="#c2102c"/>
<circle cx="117.83" cy="72.86" r="1.3" fill="#c2102c"/>
<circle cx="118.15" cy="63.84" r="1.3" fill="#c2102c"/>
<circle cx="117.54" cy="65.96" r="1.3" fill="#c2102c"/>
<circle cx="117.48" cy="62.43" r="1.3" fill="#c2102c"/>
<circle cx="116.91" cy="61.27" r="1.3" fill="#c2102c"/>
<circle cx="118.54" cy="58.39" r="1.3" fill="#c2102c"/>
<circle cx="117.71" cy="67.96" r="1.3" fill="#c2102c"/>
<circle cx="118.35" cy="60.1" r="1.3" fill="#c2102c"/>
<circle cx="117.29" cy="60.72" r="1.3" fill="#c2102c"/>
<circle cx="117.52" cy="64.47" r="1.3" fill="#c2102c"/>
<circle cx="118.52" cy="72.12" r="1.3" fill="#c2102c"/>
<circle cx="118.37" cy="56.41" r="1.3" fill="#c2102c"/>
<circle cx="116.86" cy="69.48" r="1.3" fill="#c2102c"/>
<circle cx="118.41" cy="64.99" r="1.3" fill="#c2102c"/>
<line x1="71.9" y1="32.4" x2="71.9" y2="124.7" stroke="#4a4a4a" stroke-width="1.5"/>
<line x1="25.8" y1="78.4" x2="119.6" y2="78.4" stroke="#4a4a4a" stroke-width="1.5"/>
<line x1="20.6" y1="124.2" x2="20.6" y2="36" stroke="#222" stroke-width="1.1"/>
<polygon points="20.6,31.8 18.4,37.2 22.8,37.2" fill="#222"/>
<line x1="25.3" y1="130" x2="115" y2="130" stroke="#333" stroke-width="1.3"/>
<polygon points="120,130 114.6,127.8 114.6,132.2" fill="#222"/>
<text x="14.3" y="78.7" font-size="9.6" text-anchor="middle" fill="#333" stroke="#333" stroke-width="0.12" textLength="56.5" lengthAdjust="spacingAndGlyphs" transform="rotate(-90 14.3 78.7)">Gene expression</text>
<text x="72.85" y="141.4" font-size="10" text-anchor="middle" fill="#333" stroke="#333" stroke-width="0.12" textLength="42.3" lengthAdjust="spacingAndGlyphs">Dependence</text>
<text x="98.9" y="41.1" font-size="7.9" fill="#222" stroke="#222" stroke-width="0.12" textLength="17.3" lengthAdjust="spacingAndGlyphs">PLK4</text>
<line x1="106.4" y1="44.1" x2="111.4" y2="57.5" stroke="#111" stroke-width="0.9"/>
<polygon points="112.9,61.4 109.6,57.2 113.2,55.9" fill="#111"/>
<text x="126.11" y="17" font-size="12.2" fill="#111" font-weight="bold" textLength="7.56" lengthAdjust="spacingAndGlyphs">B</text>
<rect x="166.2" y="38.9" width="19.6" height="89.9" fill="#cbcee3"/>
<rect x="185.8" y="38.9" width="84.9" height="89.9" fill="#e3eedb"/>
<rect x="270.7" y="38.9" width="28.5" height="89.9" fill="#f6d6d0"/>
<line x1="165.5" y1="83.3" x2="299" y2="83.3" stroke="#4b7a3a" stroke-width="0.8" stroke-dasharray="1,1.2"/>
<line x1="185.8" y1="24.5" x2="185.8" y2="128.8" stroke="#3a3a3a" stroke-width="1.6" stroke-dasharray="2.3,1.7"/>
<line x1="270.7" y1="24.5" x2="270.7" y2="128.8" stroke="#3a3a3a" stroke-width="1.6" stroke-dasharray="2.3,1.7"/>
<text x="176.3" y="34" font-size="8.2" text-anchor="middle" fill="#333" stroke="#333" stroke-width="0.12" textLength="18.4" lengthAdjust="spacingAndGlyphs">Stem</text>
<text x="228.4" y="34" font-size="8.2" text-anchor="middle" fill="#333" stroke="#333" stroke-width="0.12" textLength="46" lengthAdjust="spacingAndGlyphs">Intermediate</text>
<text x="284.9" y="34" font-size="8.2" text-anchor="middle" fill="#333" stroke="#333" stroke-width="0.12" textLength="24.4" lengthAdjust="spacingAndGlyphs">Mature</text>
<polyline points="173.8,83.3 185.91,79.9 198.02,99.3 210.13,94.5 222.24,84.3 234.35,100 246.46,100 258.57,94.9 270.68,90.5 282.79,80.2 294.9,73.3" fill="none" stroke="#f5a623" stroke-width="1.4" stroke-linejoin="round"/>
<circle cx="173.8" cy="83.3" r="1.2" fill="#f5a623"/>
<circle cx="185.91" cy="79.9" r="1.2" fill="#f5a623"/>
<circle cx="198.02" cy="99.3" r="1.2" fill="#f5a623"/>
<circle cx="210.13" cy="94.5" r="1.2" fill="#f5a623"/>
<circle cx="222.24" cy="84.3" r="1.2" fill="#f5a623"/>
<circle cx="234.35" cy="100" r="1.2" fill="#f5a623"/>
<circle cx="246.46" cy="100" r="1.2" fill="#f5a623"/>
<circle cx="258.57" cy="94.9" r="1.2" fill="#f5a623"/>
<circle cx="270.68" cy="90.5" r="1.2" fill="#f5a623"/>
<circle cx="282.79" cy="80.2" r="1.2" fill="#f5a623"/>
<circle cx="294.9" cy="73.3" r="1.2" fill="#f5a623"/>
<polyline points="173.8,83.3 185.91,85.8 198.02,87.9 210.13,85.3 222.24,91 234.35,91.5 246.46,91.4 258.57,85 270.68,81.9 282.79,80.2 294.9,83.6" fill="none" stroke="#5b3b1c" stroke-width="1.5" stroke-linejoin="round"/>
<circle cx="173.8" cy="83.3" r="1.4" fill="#5b3b1c"/>
<circle cx="185.91" cy="85.8" r="1.4" fill="#5b3b1c"/>
<circle cx="198.02" cy="87.9" r="1.4" fill="#5b3b1c"/>
<circle cx="210.13" cy="85.3" r="1.4" fill="#5b3b1c"/>
<circle cx="222.24" cy="91" r="1.4" fill="#5b3b1c"/>
<circle cx="234.35" cy="91.5" r="1.4" fill="#5b3b1c"/>
<circle cx="246.46" cy="91.4" r="1.4" fill="#5b3b1c"/>
<circle cx="258.57" cy="85" r="1.4" fill="#5b3b1c"/>
<circle cx="270.68" cy="81.9" r="1.4" fill="#5b3b1c"/>
<circle cx="282.79" cy="80.2" r="1.4" fill="#5b3b1c"/>
<circle cx="294.9" cy="83.6" r="1.4" fill="#5b3b1c"/>
<polyline points="173.8,83.3 185.91,83.6 198.02,82.2 210.13,83.4 222.24,80.5 234.35,84.2 246.46,80.2 258.57,77.6 270.68,64.1 282.79,53.9 294.9,65.6" fill="none" stroke="#4aa83a" stroke-width="1.5" stroke-linejoin="round"/>
<polygon points="173.8,81.3 171.8,84.7 175.8,84.7" fill="#4aa83a"/>
<polygon points="185.91,81.6 183.91,85 187.91,85" fill="#4aa83a"/>
<polygon points="198.02,80.2 196.02,83.6 200.02,83.6" fill="#4aa83a"/>
<polygon points="210.13,81.4 208.13,84.8 212.13,84.8" fill="#4aa83a"/>
<polygon points="222.24,78.5 220.24,81.9 224.24,81.9" fill="#4aa83a"/>
<polygon points="234.35,82.2 232.35,85.6 236.35,85.6" fill="#4aa83a"/>
<polygon points="246.46,78.2 244.46,81.6 248.46,81.6" fill="#4aa83a"/>
<polygon points="258.57,75.6 256.57,79 260.57,79" fill="#4aa83a"/>
<polygon points="270.68,62.1 268.68,65.5 272.68,65.5" fill="#4aa83a"/>
<polygon points="282.79,51.9 280.79,55.3 284.79,55.3" fill="#4aa83a"/>
<polygon points="294.9,63.6 292.9,67 296.9,67" fill="#4aa83a"/>
<polyline points="173.8,83.3 185.91,79.9 198.02,74.2 210.13,73.9 222.24,66.2 234.35,68.4 246.46,46.4 258.57,79.3 270.68,78.1 282.79,81 294.9,94.9" fill="none" stroke="#1f4f86" stroke-width="1.5" stroke-linejoin="round"/>
<circle cx="173.8" cy="83.3" r="1.9" fill="#1f4f86"/>
<circle cx="185.91" cy="79.9" r="1.9" fill="#1f4f86"/>
<circle cx="198.02" cy="74.2" r="1.9" fill="#1f4f86"/>
<circle cx="210.13" cy="73.9" r="1.9" fill="#1f4f86"/>
<circle cx="222.24" cy="66.2" r="1.9" fill="#1f4f86"/>
<circle cx="234.35" cy="68.4" r="1.9" fill="#1f4f86"/>
<circle cx="246.46" cy="46.4" r="1.9" fill="#1f4f86"/>
<circle cx="258.57" cy="79.3" r="1.9" fill="#1f4f86"/>
<circle cx="270.68" cy="78.1" r="1.9" fill="#1f4f86"/>
<circle cx="282.79" cy="81" r="1.9" fill="#1f4f86"/>
<circle cx="294.9" cy="94.9" r="1.9" fill="#1f4f86"/>
<polyline points="173.8,83.3 185.91,74.8 198.02,58.8 210.13,65.1 222.24,65 234.35,58.6 246.46,53.4 258.57,99.2 270.68,108.1 282.79,108.1 294.9,110.6" fill="none" stroke="#c41a32" stroke-width="1.6" stroke-linejoin="round"/>
<rect x="172.1" y="81.6" width="3.4" height="3.4" fill="#c41a32"/>
<rect x="184.21" y="73.1" width="3.4" height="3.4" fill="#c41a32"/>
<rect x="196.32" y="57.1" width="3.4" height="3.4" fill="#c41a32"/>
<rect x="208.43" y="63.4" width="3.4" height="3.4" fill="#c41a32"/>
<rect x="220.54" y="63.3" width="3.4" height="3.4" fill="#c41a32"/>
<rect x="232.65" y="56.9" width="3.4" height="3.4" fill="#c41a32"/>
<rect x="244.76" y="51.7" width="3.4" height="3.4" fill="#c41a32"/>
<rect x="256.87" y="97.5" width="3.4" height="3.4" fill="#c41a32"/>
<rect x="268.98" y="106.4" width="3.4" height="3.4" fill="#c41a32"/>
<rect x="281.09" y="106.4" width="3.4" height="3.4" fill="#c41a32"/>
<rect x="293.2" y="108.9" width="3.4" height="3.4" fill="#c41a32"/>
<polyline points="173.8,83.3 185.91,79.9" fill="none" stroke="#f5a623" stroke-width="1.4" stroke-linejoin="round"/>
<circle cx="185.91" cy="79.9" r="1.4" fill="#f5a623"/>
<rect x="172.1" y="81.6" width="3.4" height="3.4" fill="#c41a32"/>
<line x1="165.7" y1="36.8" x2="165.7" y2="129.4" stroke="#3a3a3a" stroke-width="1.9"/>
<line x1="164.8" y1="128.8" x2="301.2" y2="128.8" stroke="#333" stroke-width="1.5"/>
<line x1="162.5" y1="37.6" x2="165.5" y2="37.6" stroke="#333" stroke-width="1.2"/>
<text x="159.8" y="40.45" font-size="8.2" text-anchor="end" fill="#2b2b2b" stroke="#2b2b2b" stroke-width="0.12" textLength="4.1" lengthAdjust="spacingAndGlyphs">4</text>
<line x1="162.5" y1="60.4" x2="165.5" y2="60.4" stroke="#333" stroke-width="1.2"/>
<text x="159.8" y="63.25" font-size="8.2" text-anchor="end" fill="#2b2b2b" stroke="#2b2b2b" stroke-width="0.12" textLength="4.1" lengthAdjust="spacingAndGlyphs">2</text>
<line x1="162.5" y1="83.2" x2="165.5" y2="83.2" stroke="#333" stroke-width="1.2"/>
<text x="159.8" y="86.05" font-size="8.2" text-anchor="end" fill="#2b2b2b" stroke="#2b2b2b" stroke-width="0.12" textLength="4.1" lengthAdjust="spacingAndGlyphs">0</text>
<line x1="162.5" y1="106" x2="165.5" y2="106" stroke="#333" stroke-width="1.2"/>
<text x="159.8" y="108.85" font-size="8.2" text-anchor="end" fill="#2b2b2b" stroke="#2b2b2b" stroke-width="0.12" textLength="8.41" lengthAdjust="spacingAndGlyphs">−2</text>
<line x1="162.5" y1="128.8" x2="165.5" y2="128.8" stroke="#333" stroke-width="1.2"/>
<text x="159.8" y="131.65" font-size="8.2" text-anchor="end" fill="#2b2b2b" stroke="#2b2b2b" stroke-width="0.12" textLength="8.41" lengthAdjust="spacingAndGlyphs">−4</text>
<line x1="173.8" y1="128.8" x2="173.8" y2="131.6" stroke="#333" stroke-width="1.1"/>
<line x1="185.91" y1="128.8" x2="185.91" y2="131.6" stroke="#333" stroke-width="1.1"/>
<line x1="198.02" y1="128.8" x2="198.02" y2="131.6" stroke="#333" stroke-width="1.1"/>
<line x1="210.13" y1="128.8" x2="210.13" y2="131.6" stroke="#333" stroke-width="1.1"/>
<line x1="222.24" y1="128.8" x2="222.24" y2="131.6" stroke="#333" stroke-width="1.1"/>
<line x1="234.35" y1="128.8" x2="234.35" y2="131.6" stroke="#333" stroke-width="1.1"/>
<line x1="246.46" y1="128.8" x2="246.46" y2="131.6" stroke="#333" stroke-width="1.1"/>
<line x1="258.57" y1="128.8" x2="258.57" y2="131.6" stroke="#333" stroke-width="1.1"/>
<line x1="270.68" y1="128.8" x2="270.68" y2="131.6" stroke="#333" stroke-width="1.1"/>
<line x1="282.79" y1="128.8" x2="282.79" y2="131.6" stroke="#333" stroke-width="1.1"/>
<line x1="294.9" y1="128.8" x2="294.9" y2="131.6" stroke="#333" stroke-width="1.1"/>
<text x="176.6" y="138.2" font-size="7.7" text-anchor="end" fill="#2b2b2b" stroke="#2b2b2b" stroke-width="0.12" transform="rotate(-45 176.6 138.2)">HSC</text>
<text x="188.71" y="138.2" font-size="7.7" text-anchor="end" fill="#2b2b2b" stroke="#2b2b2b" stroke-width="0.12" transform="rotate(-45 188.71 138.2)">MPP</text>
<text x="200.82" y="138.2" font-size="7.7" text-anchor="end" fill="#2b2b2b" stroke="#2b2b2b" stroke-width="0.12" transform="rotate(-45 200.82 138.2)">CMP</text>
<text x="212.93" y="138.2" font-size="7.7" text-anchor="end" fill="#2b2b2b" stroke="#2b2b2b" stroke-width="0.12" transform="rotate(-45 212.93 138.2)">GMP + MEP</text>
<text x="225.04" y="138.2" font-size="7.7" text-anchor="end" fill="#2b2b2b" stroke="#2b2b2b" stroke-width="0.12" transform="rotate(-45 225.04 138.2)">early_PM</text>
<text x="237.15" y="138.2" font-size="7.7" text-anchor="end" fill="#2b2b2b" stroke="#2b2b2b" stroke-width="0.12" transform="rotate(-45 237.15 138.2)">late_PM</text>
<text x="249.26" y="138.2" font-size="7.7" text-anchor="end" fill="#2b2b2b" stroke="#2b2b2b" stroke-width="0.12" transform="rotate(-45 249.26 138.2)">MY</text>
<text x="261.37" y="138.2" font-size="7.7" text-anchor="end" fill="#2b2b2b" stroke="#2b2b2b" stroke-width="0.12" transform="rotate(-45 261.37 138.2)">MM</text>
<text x="273.48" y="138.2" font-size="7.7" text-anchor="end" fill="#2b2b2b" stroke="#2b2b2b" stroke-width="0.12" transform="rotate(-45 273.48 138.2)">BC</text>
<text x="285.59" y="138.2" font-size="7.7" text-anchor="end" fill="#2b2b2b" stroke="#2b2b2b" stroke-width="0.12" transform="rotate(-45 285.59 138.2)">PMN</text>
<text x="297.7" y="138.2" font-size="7.7" text-anchor="end" fill="#2b2b2b" stroke="#2b2b2b" stroke-width="0.12" transform="rotate(-45 297.7 138.2)">Mono</text>
<text x="301.9" y="68.2" font-size="7.3" fill="#2b2b2b" stroke="#2b2b2b" stroke-width="0.12" textLength="16.9" lengthAdjust="spacingAndGlyphs">PLK3</text>
<text x="301.9" y="75.5" font-size="7.3" fill="#2b2b2b" stroke="#2b2b2b" stroke-width="0.12" textLength="16.9" lengthAdjust="spacingAndGlyphs">PLK2</text>
<text x="301.9" y="86.1" font-size="7.3" fill="#2b2b2b" stroke="#2b2b2b" stroke-width="0.12" textLength="16.9" lengthAdjust="spacingAndGlyphs">PLK5</text>
<text x="301.9" y="97.1" font-size="7.3" fill="#2b2b2b" stroke="#2b2b2b" stroke-width="0.12" textLength="16.9" lengthAdjust="spacingAndGlyphs">PLK1</text>
<text x="301.9" y="112.8" font-size="7.3" fill="#2b2b2b" stroke="#2b2b2b" stroke-width="0.12" textLength="16.9" lengthAdjust="spacingAndGlyphs">PLK4</text>
<text x="134.5" y="84.2" font-size="8.7" text-anchor="middle" fill="#2b2b2b" stroke="#2b2b2b" stroke-width="0.12" textLength="56.2" lengthAdjust="spacingAndGlyphs" transform="rotate(-90 134.5 84.2)">Log2 expression</text>
<text x="145.2" y="82.9" font-size="8.7" text-anchor="middle" fill="#2b2b2b" stroke="#2b2b2b" stroke-width="0.12" textLength="61.4" lengthAdjust="spacingAndGlyphs" transform="rotate(-90 145.2 82.9)">normalized to HSC</text>
<text x="325.34" y="17" font-size="12.2" fill="#111" font-weight="bold" textLength="8.17" lengthAdjust="spacingAndGlyphs">C</text>
<line x1="365.6" y1="35.5" x2="365.6" y2="128.8" stroke="#2e2e2e" stroke-width="1.4"/>
<line x1="362.9" y1="37.4" x2="365.6" y2="37.4" stroke="#2e2e2e" stroke-width="1.4"/>
<text x="359.7" y="40.29" font-size="8.4" text-anchor="end" fill="#2b2b2b" stroke="#2b2b2b" stroke-width="0.12" textLength="8.59" lengthAdjust="spacingAndGlyphs">10</text>
<line x1="362.9" y1="79.3" x2="365.6" y2="79.3" stroke="#2e2e2e" stroke-width="1.4"/>
<text x="359.7" y="82.19" font-size="8.4" text-anchor="end" fill="#2b2b2b" stroke="#2b2b2b" stroke-width="0.12" textLength="4.3" lengthAdjust="spacingAndGlyphs">5</text>
<line x1="362.9" y1="120.6" x2="365.6" y2="120.6" stroke="#2e2e2e" stroke-width="1.4"/>
<text x="359.7" y="123.49" font-size="8.4" text-anchor="end" fill="#2b2b2b" stroke="#2b2b2b" stroke-width="0.12" textLength="4.3" lengthAdjust="spacingAndGlyphs">0</text>
<rect x="398.6" y="76.5" width="15.5" height="44" fill="#eb8d80"/>
<line x1="365.6" y1="120.5" x2="417.6" y2="120.5" stroke="#333" stroke-width="1.4"/>
<line x1="365" y1="128.8" x2="417.6" y2="128.8" stroke="#333" stroke-width="1.4"/>
<line x1="380.1" y1="128.8" x2="380.1" y2="131.5" stroke="#333" stroke-width="1.1"/>
<line x1="406.2" y1="128.8" x2="406.2" y2="131.5" stroke="#333" stroke-width="1.1"/>
<rect x="402.2" y="41.9" width="2.4" height="2.4" fill="#bc0f2b"/>
<rect x="408" y="41.9" width="2.4" height="2.4" fill="#bc0f2b"/>
<rect x="402.2" y="50.1" width="2.4" height="2.4" fill="#bc0f2b"/>
<rect x="408" y="49.5" width="2.4" height="2.4" fill="#bc0f2b"/>
<rect x="402.2" y="58.5" width="2.4" height="2.4" fill="#bc0f2b"/>
<rect x="408" y="58.8" width="2.4" height="2.4" fill="#bc0f2b"/>
<rect x="399.6" y="61.8" width="2.4" height="2.4" fill="#bc0f2b"/>
<rect x="404.9" y="62.6" width="2.4" height="2.4" fill="#bc0f2b"/>
<rect x="410.7" y="65.3" width="2.4" height="2.4" fill="#bc0f2b"/>
<rect x="399.6" y="66.8" width="2.4" height="2.4" fill="#bc0f2b"/>
<rect x="404.9" y="67.6" width="2.4" height="2.4" fill="#bc0f2b"/>
<rect x="399.6" y="70.7" width="2.4" height="2.4" fill="#bc0f2b"/>
<rect x="410.7" y="71.8" width="2.4" height="2.4" fill="#bc0f2b"/>
<rect x="410.7" y="77.2" width="2.4" height="2.4" fill="#bc0f2b"/>
<rect x="405.1" y="79.1" width="2.4" height="2.4" fill="#bc0f2b"/>
<rect x="405.1" y="85.8" width="2.4" height="2.4" fill="#bc0f2b"/>
<rect x="399.6" y="88" width="2.4" height="2.4" fill="#bc0f2b"/>
<rect x="405.1" y="89.5" width="2.4" height="2.4" fill="#bc0f2b"/>
<rect x="399.6" y="91.8" width="2.4" height="2.4" fill="#bc0f2b"/>
<rect x="410.6" y="91.8" width="2.4" height="2.4" fill="#bc0f2b"/>
<rect x="405.1" y="93.8" width="2.4" height="2.4" fill="#bc0f2b"/>
<rect x="405.1" y="98.3" width="2.4" height="2.4" fill="#bc0f2b"/>
<rect x="405.1" y="102.2" width="2.4" height="2.4" fill="#bc0f2b"/>
<rect x="405.1" y="119" width="2.4" height="2.4" fill="#bc0f2b"/>
<line x1="406.2" y1="71.1" x2="406.2" y2="80" stroke="#a01028" stroke-width="1"/>
<line x1="401.2" y1="71.1" x2="411.2" y2="71.1" stroke="#a01028" stroke-width="1"/>
<line x1="401.2" y1="80" x2="411.2" y2="80" stroke="#a01028" stroke-width="1"/>
<text x="406.2" y="42.04" font-size="8.5" text-anchor="middle" fill="#2b2b2b" stroke="#2b2b2b" stroke-width="0.12">***</text>
<line x1="380.1" y1="116.3" x2="380.1" y2="125" stroke="#1b3b6f" stroke-width="1"/>
<line x1="376.3" y1="116.3" x2="383.9" y2="116.3" stroke="#1b3b6f" stroke-width="1"/>
<line x1="376.3" y1="125" x2="383.9" y2="125" stroke="#1b3b6f" stroke-width="1"/>
<circle cx="380.1" cy="102.9" r="1.3" fill="#1b3b6f"/>
<circle cx="374.8" cy="123.8" r="1.3" fill="#1b3b6f"/>
<circle cx="380.1" cy="124.2" r="1.3" fill="#1b3b6f"/>
<circle cx="385.4" cy="124.2" r="1.3" fill="#1b3b6f"/>
<text x="380.3" y="141.8" font-size="8.4" text-anchor="middle" fill="#2b2b2b" stroke="#2b2b2b" stroke-width="0.12" textLength="26.6" lengthAdjust="spacingAndGlyphs">Normal</text>
<text x="406.25" y="141.8" font-size="8.4" text-anchor="middle" fill="#2b2b2b" stroke="#2b2b2b" stroke-width="0.12" textLength="16.9" lengthAdjust="spacingAndGlyphs">AML</text>
<text x="333.4" y="79.1" font-size="8.8" text-anchor="middle" fill="#2b2b2b" stroke="#2b2b2b" stroke-width="0.12" transform="rotate(-90 333.4 79.1)" textLength="73.2" lengthAdjust="spacingAndGlyphs">Log2 <tspan font-style="italic">PLK4</tspan> expression</text>
<text x="345.4" y="79.4" font-size="8.8" text-anchor="middle" fill="#2b2b2b" stroke="#2b2b2b" stroke-width="0.12" textLength="67" lengthAdjust="spacingAndGlyphs" transform="rotate(-90 345.4 79.4)">normalized to HSPC</text>
<text x="426.93" y="16.9" font-size="12.2" fill="#111" font-weight="bold" textLength="9.51" lengthAdjust="spacingAndGlyphs">D</text>
<text x="483.3" y="30.7" font-size="9.4" text-anchor="middle" fill="#2b2b2b" stroke="#2b2b2b" stroke-width="0.12" textLength="59.4" lengthAdjust="spacingAndGlyphs">AML cell lines</text>
<rect x="464.4" y="106.7" width="15.6" height="21.6" fill="#7b93c7"/>
<rect x="490.8" y="66.2" width="15.4" height="62.1" fill="#e68a7c"/>
<line x1="457.8" y1="35.5" x2="457.8" y2="128.3" stroke="#2e2e2e" stroke-width="1.4"/>
<line x1="455.1" y1="37.5" x2="457.8" y2="37.5" stroke="#2e2e2e" stroke-width="1.4"/>
<text x="451.9" y="40.39" font-size="8.4" text-anchor="end" fill="#2b2b2b" stroke="#2b2b2b" stroke-width="0.12" textLength="10.74" lengthAdjust="spacingAndGlyphs">1.5</text>
<line x1="455.1" y1="67.7" x2="457.8" y2="67.7" stroke="#2e2e2e" stroke-width="1.4"/>
<text x="451.9" y="70.59" font-size="8.4" text-anchor="end" fill="#2b2b2b" stroke="#2b2b2b" stroke-width="0.12" textLength="10.74" lengthAdjust="spacingAndGlyphs">1.0</text>
<line x1="455.1" y1="98.1" x2="457.8" y2="98.1" stroke="#2e2e2e" stroke-width="1.4"/>
<text x="451.9" y="100.99" font-size="8.4" text-anchor="end" fill="#2b2b2b" stroke="#2b2b2b" stroke-width="0.12" textLength="10.74" lengthAdjust="spacingAndGlyphs">0.5</text>
<line x1="455.1" y1="128.3" x2="457.8" y2="128.3" stroke="#2e2e2e" stroke-width="1.4"/>
<text x="451.9" y="131.19" font-size="8.4" text-anchor="end" fill="#2b2b2b" stroke="#2b2b2b" stroke-width="0.12" textLength="10.74" lengthAdjust="spacingAndGlyphs">0.0</text>
<line x1="457.1" y1="128.3" x2="509" y2="128.3" stroke="#333" stroke-width="1.4"/>
<line x1="472.2" y1="128.3" x2="472.2" y2="131" stroke="#333" stroke-width="1.1"/>
<line x1="498.4" y1="128.3" x2="498.4" y2="131" stroke="#333" stroke-width="1.1"/>
<line x1="472.2" y1="94.6" x2="472.2" y2="117" stroke="#1b3b6f" stroke-width="1"/>
<line x1="467.8" y1="94.6" x2="476.6" y2="94.6" stroke="#1b3b6f" stroke-width="1"/>
<line x1="467.8" y1="117" x2="476.6" y2="117" stroke="#1b3b6f" stroke-width="1"/>
<circle cx="472.2" cy="94.6" r="1.3" fill="#1b3b6f"/>
<circle cx="472.2" cy="98.9" r="1.3" fill="#1b3b6f"/>
<circle cx="472.2" cy="110.2" r="1.3" fill="#1b3b6f"/>
<circle cx="472.2" cy="119.4" r="1.3" fill="#1b3b6f"/>
<line x1="498.4" y1="46" x2="498.4" y2="85.8" stroke="#b8102a" stroke-width="1"/>
<line x1="494" y1="46" x2="502.8" y2="46" stroke="#b8102a" stroke-width="1"/>
<line x1="494" y1="85.8" x2="502.8" y2="85.8" stroke="#b8102a" stroke-width="1"/>
<rect x="494.7" y="44.8" width="2.4" height="2.4" fill="#bc0f2b"/>
<rect x="499.8" y="44.8" width="2.4" height="2.4" fill="#bc0f2b"/>
<rect x="497.2" y="66.6" width="2.4" height="2.4" fill="#bc0f2b"/>
<rect x="497.2" y="71.5" width="2.4" height="2.4" fill="#bc0f2b"/>
<rect x="497.2" y="93.4" width="2.4" height="2.4" fill="#bc0f2b"/>
<text x="498.4" y="42.23" font-size="8.5" text-anchor="middle" fill="#2b2b2b" stroke="#2b2b2b" stroke-width="0.12">**</text>
<text x="472.2" y="141.8" font-size="8.4" text-anchor="middle" fill="#2b2b2b" stroke="#2b2b2b" stroke-width="0.12" textLength="12.3" lengthAdjust="spacingAndGlyphs">WT</text>
<text x="498.1" y="141.8" font-size="8.4" text-anchor="middle" fill="#2b2b2b" stroke="#2b2b2b" stroke-width="0.12" textLength="14.6" lengthAdjust="spacingAndGlyphs">Mut</text>
<text x="433.7" y="85" font-size="8.8" text-anchor="middle" fill="#2b2b2b" stroke="#2b2b2b" stroke-width="0.12" textLength="83" lengthAdjust="spacingAndGlyphs" transform="rotate(-90 433.7 85)">PLK4 mRNA expression</text>
<text x="9.06" y="188.1" font-size="12.2" fill="#111" font-weight="bold" textLength="7.48" lengthAdjust="spacingAndGlyphs">E</text>
<text x="79.2" y="201.4" font-size="9.4" text-anchor="middle" fill="#2b2b2b" stroke="#2b2b2b" stroke-width="0.12" textLength="55.4" lengthAdjust="spacingAndGlyphs">Primary AML</text>
<rect x="57.8" y="258.3" width="16.1" height="42.9" fill="#7b93c7"/>
<rect x="84" y="239" width="15.8" height="62.2" fill="#e68a7c"/>
<line x1="48.3" y1="206.9" x2="48.3" y2="301.2" stroke="#2e2e2e" stroke-width="1.4"/>
<line x1="45.6" y1="209.6" x2="48.3" y2="209.6" stroke="#2e2e2e" stroke-width="1.4"/>
<text x="42.4" y="212.49" font-size="8.4" text-anchor="end" fill="#2b2b2b" stroke="#2b2b2b" stroke-width="0.12" textLength="8.59" lengthAdjust="spacingAndGlyphs">10</text>
<line x1="45.6" y1="228" x2="48.3" y2="228" stroke="#2e2e2e" stroke-width="1.4"/>
<text x="42.4" y="230.89" font-size="8.4" text-anchor="end" fill="#2b2b2b" stroke="#2b2b2b" stroke-width="0.12" textLength="4.3" lengthAdjust="spacingAndGlyphs">8</text>
<line x1="45.6" y1="246.3" x2="48.3" y2="246.3" stroke="#2e2e2e" stroke-width="1.4"/>
<text x="42.4" y="249.19" font-size="8.4" text-anchor="end" fill="#2b2b2b" stroke="#2b2b2b" stroke-width="0.12" textLength="4.3" lengthAdjust="spacingAndGlyphs">6</text>
<line x1="45.6" y1="264.6" x2="48.3" y2="264.6" stroke="#2e2e2e" stroke-width="1.4"/>
<text x="42.4" y="267.49" font-size="8.4" text-anchor="end" fill="#2b2b2b" stroke="#2b2b2b" stroke-width="0.12" textLength="4.3" lengthAdjust="spacingAndGlyphs">4</text>
<line x1="45.6" y1="282.9" x2="48.3" y2="282.9" stroke="#2e2e2e" stroke-width="1.4"/>
<text x="42.4" y="285.79" font-size="8.4" text-anchor="end" fill="#2b2b2b" stroke="#2b2b2b" stroke-width="0.12" textLength="4.3" lengthAdjust="spacingAndGlyphs">2</text>
<line x1="45.6" y1="301.2" x2="48.3" y2="301.2" stroke="#2e2e2e" stroke-width="1.4"/>
<text x="42.4" y="304.09" font-size="8.4" text-anchor="end" fill="#2b2b2b" stroke="#2b2b2b" stroke-width="0.12" textLength="4.3" lengthAdjust="spacingAndGlyphs">0</text>
<line x1="47.6" y1="301.2" x2="110" y2="301.2" stroke="#333" stroke-width="1.4"/>
<line x1="65.8" y1="301.2" x2="65.8" y2="304" stroke="#333" stroke-width="1.1"/>
<line x1="92.1" y1="301.2" x2="92.1" y2="304" stroke="#333" stroke-width="1.1"/>
<line x1="65.8" y1="252.5" x2="65.8" y2="263.2" stroke="#1b3b6f" stroke-width="1"/>
<line x1="61.8" y1="252.5" x2="69.8" y2="252.5" stroke="#1b3b6f" stroke-width="1"/>
<line x1="61.8" y1="263.2" x2="69.8" y2="263.2" stroke="#1b3b6f" stroke-width="1"/>
<circle cx="65.8" cy="237.6" r="1.3" fill="#1b3b6f"/>
<circle cx="60.4" cy="243.3" r="1.3" fill="#1b3b6f"/>
<circle cx="65.8" cy="243.8" r="1.3" fill="#1b3b6f"/>
<circle cx="71.3" cy="241.8" r="1.3" fill="#1b3b6f"/>
<circle cx="65.8" cy="249" r="1.3" fill="#1b3b6f"/>
<circle cx="71.3" cy="247.3" r="1.3" fill="#1b3b6f"/>
<circle cx="71.3" cy="252.5" r="1.3" fill="#1b3b6f"/>
<circle cx="65.8" cy="255.1" r="1.3" fill="#1b3b6f"/>
<circle cx="65.8" cy="266.8" r="1.3" fill="#1b3b6f"/>
<circle cx="65.8" cy="270.9" r="1.3" fill="#1b3b6f"/>
<circle cx="65.8" cy="281.9" r="1.3" fill="#1b3b6f"/>
<line x1="92.1" y1="233.4" x2="92.1" y2="242.7" stroke="#b8102a" stroke-width="1"/>
<line x1="88.1" y1="233.4" x2="96.1" y2="233.4" stroke="#b8102a" stroke-width="1"/>
<line x1="88.1" y1="242.7" x2="96.1" y2="242.7" stroke="#b8102a" stroke-width="1"/>
<rect x="88" y="214.7" width="2.4" height="2.4" fill="#bc0f2b"/>
<rect x="93.6" y="214.7" width="2.4" height="2.4" fill="#bc0f2b"/>
<rect x="90.9" y="222.8" width="2.4" height="2.4" fill="#bc0f2b"/>
<rect x="88" y="226.3" width="2.4" height="2.4" fill="#bc0f2b"/>
<rect x="93.6" y="228.6" width="2.4" height="2.4" fill="#bc0f2b"/>
<rect x="90.9" y="233.4" width="2.4" height="2.4" fill="#bc0f2b"/>
<rect x="90.9" y="242.4" width="2.4" height="2.4" fill="#bc0f2b"/>
<rect x="90.9" y="246.4" width="2.4" height="2.4" fill="#bc0f2b"/>
<rect x="88" y="251.3" width="2.4" height="2.4" fill="#bc0f2b"/>
<rect x="93.6" y="249.5" width="2.4" height="2.4" fill="#bc0f2b"/>
<rect x="93.6" y="253" width="2.4" height="2.4" fill="#bc0f2b"/>
<rect x="90.9" y="257.8" width="2.4" height="2.4" fill="#bc0f2b"/>
<circle cx="91.8" cy="209.2" r="1.1" fill="#333"/>
<text x="65.65" y="314.4" font-size="8.4" text-anchor="middle" fill="#2b2b2b" stroke="#2b2b2b" stroke-width="0.12" textLength="12.3" lengthAdjust="spacingAndGlyphs">WT</text>
<text x="92" y="314.4" font-size="8.4" text-anchor="middle" fill="#2b2b2b" stroke="#2b2b2b" stroke-width="0.12" textLength="14.6" lengthAdjust="spacingAndGlyphs">Mut</text>
<text x="27.5" y="254.7" font-size="8.8" text-anchor="middle" fill="#2b2b2b" stroke="#2b2b2b" stroke-width="0.12" textLength="77.5" lengthAdjust="spacingAndGlyphs" transform="rotate(-90 27.5 254.7)">PLK4 mRNA expression</text>
<text x="124.35" y="188.1" font-size="12.2" fill="#111" font-weight="bold" textLength="6.96" lengthAdjust="spacingAndGlyphs">F</text>
<text x="236" y="201.9" font-size="9.4" text-anchor="middle" fill="#2b2b2b" stroke="#2b2b2b" stroke-width="0.12" textLength="21.6" lengthAdjust="spacingAndGlyphs">Day4</text>
<line x1="167.5" y1="210" x2="167.5" y2="302.3" stroke="#2e2e2e" stroke-width="1.4"/>
<line x1="164.7" y1="226.4" x2="167.5" y2="226.4" stroke="#2e2e2e" stroke-width="1.4"/>
<text x="161.6" y="229.29" font-size="8.4" text-anchor="end" fill="#2b2b2b" stroke="#2b2b2b" stroke-width="0.12" textLength="12.89" lengthAdjust="spacingAndGlyphs">100</text>
<line x1="164.7" y1="264.3" x2="167.5" y2="264.3" stroke="#2e2e2e" stroke-width="1.4"/>
<text x="161.6" y="267.19" font-size="8.4" text-anchor="end" fill="#2b2b2b" stroke="#2b2b2b" stroke-width="0.12" textLength="8.59" lengthAdjust="spacingAndGlyphs">50</text>
<line x1="164.7" y1="302.3" x2="167.5" y2="302.3" stroke="#2e2e2e" stroke-width="1.4"/>
<text x="161.6" y="305.19" font-size="8.4" text-anchor="end" fill="#2b2b2b" stroke="#2b2b2b" stroke-width="0.12" textLength="4.3" lengthAdjust="spacingAndGlyphs">0</text>
<line x1="166.8" y1="302.3" x2="303.8" y2="302.3" stroke="#333" stroke-width="1.4"/>
<line x1="176.3" y1="223.3" x2="176.3" y2="227.9" stroke="#1c4e8f" stroke-width="1.1"/>
<line x1="174.1" y1="223.3" x2="178.5" y2="223.3" stroke="#1c4e8f" stroke-width="1.1"/>
<rect x="172.9" y="226.9" width="6.8" height="75.4" fill="#1c4e8f"/>
<line x1="176.3" y1="302.3" x2="176.3" y2="304.9" stroke="#333" stroke-width="1.1"/>
<line x1="189.2" y1="262.9" x2="189.2" y2="266.8" stroke="#1c4e8f" stroke-width="1.1"/>
<line x1="187" y1="262.9" x2="191.4" y2="262.9" stroke="#1c4e8f" stroke-width="1.1"/>
<rect x="185.8" y="265.8" width="6.8" height="36.5" fill="#1c4e8f"/>
<line x1="189.2" y1="302.3" x2="189.2" y2="304.9" stroke="#333" stroke-width="1.1"/>
<line x1="202" y1="266.8" x2="202" y2="270.4" stroke="#1c4e8f" stroke-width="1.1"/>
<line x1="199.8" y1="266.8" x2="204.2" y2="266.8" stroke="#1c4e8f" stroke-width="1.1"/>
<rect x="198.6" y="269.4" width="6.8" height="32.9" fill="#1c4e8f"/>
<line x1="202" y1="302.3" x2="202" y2="304.9" stroke="#333" stroke-width="1.1"/>
<line x1="172.9" y1="218.4" x2="205.4" y2="218.4" stroke="#333" stroke-width="1.3"/>
<text x="189.15" y="214.6" font-size="8.5" text-anchor="middle" fill="#2b2b2b" stroke="#2b2b2b" stroke-width="0.12" textLength="15.5" lengthAdjust="spacingAndGlyphs">ML2</text>
<text x="178.6" y="311.9" font-size="7.9" text-anchor="end" fill="#2b2b2b" stroke="#2b2b2b" stroke-width="0.12" transform="rotate(-45 178.6 311.9)">Control</text>
<text x="191.5" y="311.9" font-size="7.9" text-anchor="end" fill="#2b2b2b" stroke="#2b2b2b" stroke-width="0.12" transform="rotate(-45 191.5 311.9)">KO3</text>
<text x="204.3" y="311.9" font-size="7.9" text-anchor="end" fill="#2b2b2b" stroke="#2b2b2b" stroke-width="0.12" transform="rotate(-45 204.3 311.9)">KO4</text>
<line x1="223.2" y1="224.3" x2="223.2" y2="227.9" stroke="#d0112b" stroke-width="1.1"/>
<line x1="221" y1="224.3" x2="225.4" y2="224.3" stroke="#d0112b" stroke-width="1.1"/>
<rect x="219.8" y="226.9" width="6.8" height="75.4" fill="#d0112b"/>
<line x1="223.2" y1="302.3" x2="223.2" y2="304.9" stroke="#333" stroke-width="1.1"/>
<line x1="236.2" y1="239.9" x2="236.2" y2="244.3" stroke="#d0112b" stroke-width="1.1"/>
<line x1="234" y1="239.9" x2="238.4" y2="239.9" stroke="#d0112b" stroke-width="1.1"/>
<rect x="232.8" y="243.3" width="6.8" height="59" fill="#d0112b"/>
<line x1="236.2" y1="302.3" x2="236.2" y2="304.9" stroke="#333" stroke-width="1.1"/>
<line x1="249.2" y1="242.5" x2="249.2" y2="247.9" stroke="#d0112b" stroke-width="1.1"/>
<line x1="247" y1="242.5" x2="251.4" y2="242.5" stroke="#d0112b" stroke-width="1.1"/>
<rect x="245.8" y="246.9" width="6.8" height="55.4" fill="#d0112b"/>
<line x1="249.2" y1="302.3" x2="249.2" y2="304.9" stroke="#333" stroke-width="1.1"/>
<line x1="219.8" y1="218.4" x2="252.6" y2="218.4" stroke="#333" stroke-width="1.3"/>
<text x="236.2" y="214.6" font-size="8.5" text-anchor="middle" fill="#2b2b2b" stroke="#2b2b2b" stroke-width="0.12" textLength="18.7" lengthAdjust="spacingAndGlyphs">K052</text>
<text x="225.5" y="311.9" font-size="7.9" text-anchor="end" fill="#2b2b2b" stroke="#2b2b2b" stroke-width="0.12" transform="rotate(-45 225.5 311.9)">Control</text>
<text x="238.5" y="311.9" font-size="7.9" text-anchor="end" fill="#2b2b2b" stroke="#2b2b2b" stroke-width="0.12" transform="rotate(-45 238.5 311.9)">KO3</text>
<text x="251.5" y="311.9" font-size="7.9" text-anchor="end" fill="#2b2b2b" stroke="#2b2b2b" stroke-width="0.12" transform="rotate(-45 251.5 311.9)">KO4</text>
<line x1="270.6" y1="225.5" x2="270.6" y2="227.9" stroke="#39a935" stroke-width="1.1"/>
<line x1="268.4" y1="225.5" x2="272.8" y2="225.5" stroke="#39a935" stroke-width="1.1"/>
<rect x="267.2" y="226.9" width="6.8" height="75.4" fill="#39a935"/>
<line x1="270.6" y1="302.3" x2="270.6" y2="304.9" stroke="#333" stroke-width="1.1"/>
<line x1="283.5" y1="238.9" x2="283.5" y2="245.9" stroke="#39a935" stroke-width="1.1"/>
<line x1="281.3" y1="238.9" x2="285.7" y2="238.9" stroke="#39a935" stroke-width="1.1"/>
<rect x="280.1" y="244.9" width="6.8" height="57.4" fill="#39a935"/>
<line x1="283.5" y1="302.3" x2="283.5" y2="304.9" stroke="#333" stroke-width="1.1"/>
<line x1="296.5" y1="248.3" x2="296.5" y2="252.9" stroke="#39a935" stroke-width="1.1"/>
<line x1="294.3" y1="248.3" x2="298.7" y2="248.3" stroke="#39a935" stroke-width="1.1"/>
<rect x="293.1" y="251.9" width="6.8" height="50.4" fill="#39a935"/>
<line x1="296.5" y1="302.3" x2="296.5" y2="304.9" stroke="#333" stroke-width="1.1"/>
<line x1="267.2" y1="218.4" x2="299.9" y2="218.4" stroke="#333" stroke-width="1.3"/>
<text x="283.55" y="214.6" font-size="8.5" text-anchor="middle" fill="#2b2b2b" stroke="#2b2b2b" stroke-width="0.12" textLength="21.4" lengthAdjust="spacingAndGlyphs">THP-1</text>
<text x="272.9" y="311.9" font-size="7.9" text-anchor="end" fill="#2b2b2b" stroke="#2b2b2b" stroke-width="0.12" transform="rotate(-45 272.9 311.9)">Control</text>
<text x="285.8" y="311.9" font-size="7.9" text-anchor="end" fill="#2b2b2b" stroke="#2b2b2b" stroke-width="0.12" transform="rotate(-45 285.8 311.9)">KO3</text>
<text x="298.8" y="311.9" font-size="7.9" text-anchor="end" fill="#2b2b2b" stroke="#2b2b2b" stroke-width="0.12" transform="rotate(-45 298.8 311.9)">KO4</text>
<text x="189.2" y="258.24" font-size="8.5" text-anchor="middle" fill="#2b2b2b" stroke="#2b2b2b" stroke-width="0.12">*</text>
<text x="202" y="258.24" font-size="8.5" text-anchor="middle" fill="#2b2b2b" stroke="#2b2b2b" stroke-width="0.12">**</text>
<text x="236.2" y="238.53" font-size="8.5" text-anchor="middle" fill="#2b2b2b" stroke="#2b2b2b" stroke-width="0.12">**</text>
<text x="249.2" y="238.53" font-size="8.5" text-anchor="middle" fill="#2b2b2b" stroke="#2b2b2b" stroke-width="0.12">**</text>
<text x="283.5" y="233.85" font-size="7.4" text-anchor="middle" fill="#2b2b2b" stroke="#2b2b2b" stroke-width="0.12">ns</text>
<text x="296.5" y="242.03" font-size="8.5" text-anchor="middle" fill="#2b2b2b" stroke="#2b2b2b" stroke-width="0.12">*</text>
<text x="142.3" y="255.9" font-size="8.9" text-anchor="middle" fill="#2b2b2b" stroke="#2b2b2b" stroke-width="0.12" textLength="54.2" lengthAdjust="spacingAndGlyphs" transform="rotate(-90 142.3 255.9)">Cell viability (%)</text>
<text x="314.57" y="187.8" font-size="12.2" fill="#111" font-weight="bold" textLength="10.03" lengthAdjust="spacingAndGlyphs">G</text>
<text x="428.9" y="201.9" font-size="9.4" text-anchor="middle" fill="#2b2b2b" stroke="#2b2b2b" stroke-width="0.12" textLength="21.6" lengthAdjust="spacingAndGlyphs">Day4</text>
<line x1="360.4" y1="210.4" x2="360.4" y2="301.2" stroke="#2e2e2e" stroke-width="1.4"/>
<line x1="357.6" y1="230.9" x2="360.4" y2="230.9" stroke="#2e2e2e" stroke-width="1.4"/>
<text x="354.5" y="233.79" font-size="8.4" text-anchor="end" fill="#2b2b2b" stroke="#2b2b2b" stroke-width="0.12" textLength="12.89" lengthAdjust="spacingAndGlyphs">100</text>
<line x1="357.6" y1="265.9" x2="360.4" y2="265.9" stroke="#2e2e2e" stroke-width="1.4"/>
<text x="354.5" y="268.79" font-size="8.4" text-anchor="end" fill="#2b2b2b" stroke="#2b2b2b" stroke-width="0.12" textLength="8.59" lengthAdjust="spacingAndGlyphs">50</text>
<line x1="357.6" y1="301.2" x2="360.4" y2="301.2" stroke="#2e2e2e" stroke-width="1.4"/>
<text x="354.5" y="304.09" font-size="8.4" text-anchor="end" fill="#2b2b2b" stroke="#2b2b2b" stroke-width="0.12" textLength="4.3" lengthAdjust="spacingAndGlyphs">0</text>
<line x1="359.7" y1="301.2" x2="497.7" y2="301.2" stroke="#333" stroke-width="1.4"/>
<line x1="369.2" y1="224" x2="369.2" y2="232.9" stroke="#1c4e8f" stroke-width="1.1"/>
<line x1="367" y1="224" x2="371.4" y2="224" stroke="#1c4e8f" stroke-width="1.1"/>
<rect x="365.8" y="231.9" width="6.8" height="69.3" fill="#1c4e8f"/>
<line x1="369.2" y1="301.2" x2="369.2" y2="303.8" stroke="#333" stroke-width="1.1"/>
<text x="369.2" y="314.29" font-size="8.4" text-anchor="middle" fill="#2b2b2b" stroke="#2b2b2b" stroke-width="0.12" textLength="4.3" lengthAdjust="spacingAndGlyphs">0</text>
<line x1="382.1" y1="256" x2="382.1" y2="262.6" stroke="#1c4e8f" stroke-width="1.1"/>
<line x1="379.9" y1="256" x2="384.3" y2="256" stroke="#1c4e8f" stroke-width="1.1"/>
<rect x="378.7" y="261.6" width="6.8" height="39.6" fill="#1c4e8f"/>
<line x1="382.1" y1="301.2" x2="382.1" y2="303.8" stroke="#333" stroke-width="1.1"/>
<text x="382.1" y="314.29" font-size="8.4" text-anchor="middle" fill="#2b2b2b" stroke="#2b2b2b" stroke-width="0.12" textLength="4.3" lengthAdjust="spacingAndGlyphs">5</text>
<line x1="395" y1="286.3" x2="395" y2="291.4" stroke="#1c4e8f" stroke-width="1.1"/>
<line x1="392.8" y1="286.3" x2="397.2" y2="286.3" stroke="#1c4e8f" stroke-width="1.1"/>
<rect x="391.6" y="290.4" width="6.8" height="10.8" fill="#1c4e8f"/>
<line x1="395" y1="301.2" x2="395" y2="303.8" stroke="#333" stroke-width="1.1"/>
<text x="395" y="314.29" font-size="8.4" text-anchor="middle" fill="#2b2b2b" stroke="#2b2b2b" stroke-width="0.12" textLength="8.59" lengthAdjust="spacingAndGlyphs">10</text>
<line x1="365.8" y1="219.1" x2="398.4" y2="219.1" stroke="#333" stroke-width="1.3"/>
<text x="382.1" y="215.9" font-size="8.5" text-anchor="middle" fill="#2b2b2b" stroke="#2b2b2b" stroke-width="0.12" textLength="15.5" lengthAdjust="spacingAndGlyphs">ML2</text>
<line x1="416.4" y1="228.7" x2="416.4" y2="232.9" stroke="#d0112b" stroke-width="1.1"/>
<line x1="414.2" y1="228.7" x2="418.6" y2="228.7" stroke="#d0112b" stroke-width="1.1"/>
<rect x="413" y="231.9" width="6.8" height="69.3" fill="#d0112b"/>
<line x1="416.4" y1="301.2" x2="416.4" y2="303.8" stroke="#333" stroke-width="1.1"/>
<text x="416.4" y="314.29" font-size="8.4" text-anchor="middle" fill="#2b2b2b" stroke="#2b2b2b" stroke-width="0.12" textLength="4.3" lengthAdjust="spacingAndGlyphs">0</text>
<line x1="429.1" y1="241.2" x2="429.1" y2="244.8" stroke="#d0112b" stroke-width="1.1"/>
<line x1="426.9" y1="241.2" x2="431.3" y2="241.2" stroke="#d0112b" stroke-width="1.1"/>
<rect x="425.7" y="243.8" width="6.8" height="57.4" fill="#d0112b"/>
<line x1="429.1" y1="301.2" x2="429.1" y2="303.8" stroke="#333" stroke-width="1.1"/>
<text x="429.1" y="314.29" font-size="8.4" text-anchor="middle" fill="#2b2b2b" stroke="#2b2b2b" stroke-width="0.12" textLength="4.3" lengthAdjust="spacingAndGlyphs">5</text>
<line x1="442" y1="246.3" x2="442" y2="249.7" stroke="#d0112b" stroke-width="1.1"/>
<line x1="439.8" y1="246.3" x2="444.2" y2="246.3" stroke="#d0112b" stroke-width="1.1"/>
<rect x="438.6" y="248.7" width="6.8" height="52.5" fill="#d0112b"/>
<line x1="442" y1="301.2" x2="442" y2="303.8" stroke="#333" stroke-width="1.1"/>
<text x="442" y="314.29" font-size="8.4" text-anchor="middle" fill="#2b2b2b" stroke="#2b2b2b" stroke-width="0.12" textLength="8.59" lengthAdjust="spacingAndGlyphs">10</text>
<line x1="413" y1="219.1" x2="445.4" y2="219.1" stroke="#333" stroke-width="1.3"/>
<text x="429.2" y="215.9" font-size="8.5" text-anchor="middle" fill="#2b2b2b" stroke="#2b2b2b" stroke-width="0.12" textLength="18.7" lengthAdjust="spacingAndGlyphs">K052</text>
<line x1="463.5" y1="229.4" x2="463.5" y2="232.9" stroke="#39a935" stroke-width="1.1"/>
<line x1="461.3" y1="229.4" x2="465.7" y2="229.4" stroke="#39a935" stroke-width="1.1"/>
<rect x="460.1" y="231.9" width="6.8" height="69.3" fill="#39a935"/>
<line x1="463.5" y1="301.2" x2="463.5" y2="303.8" stroke="#333" stroke-width="1.1"/>
<text x="463.5" y="314.29" font-size="8.4" text-anchor="middle" fill="#2b2b2b" stroke="#2b2b2b" stroke-width="0.12" textLength="4.3" lengthAdjust="spacingAndGlyphs">0</text>
<line x1="476.4" y1="243.8" x2="476.4" y2="246.9" stroke="#39a935" stroke-width="1.1"/>
<line x1="474.2" y1="243.8" x2="478.6" y2="243.8" stroke="#39a935" stroke-width="1.1"/>
<rect x="473" y="245.9" width="6.8" height="55.3" fill="#39a935"/>
<line x1="476.4" y1="301.2" x2="476.4" y2="303.8" stroke="#333" stroke-width="1.1"/>
<text x="476.4" y="314.29" font-size="8.4" text-anchor="middle" fill="#2b2b2b" stroke="#2b2b2b" stroke-width="0.12" textLength="4.3" lengthAdjust="spacingAndGlyphs">5</text>
<line x1="489.3" y1="257.3" x2="489.3" y2="262" stroke="#39a935" stroke-width="1.1"/>
<line x1="487.1" y1="257.3" x2="491.5" y2="257.3" stroke="#39a935" stroke-width="1.1"/>
<rect x="485.9" y="261" width="6.8" height="40.2" fill="#39a935"/>
<line x1="489.3" y1="301.2" x2="489.3" y2="303.8" stroke="#333" stroke-width="1.1"/>
<text x="489.3" y="314.29" font-size="8.4" text-anchor="middle" fill="#2b2b2b" stroke="#2b2b2b" stroke-width="0.12" textLength="8.59" lengthAdjust="spacingAndGlyphs">10</text>
<line x1="460.1" y1="219.1" x2="492.7" y2="219.1" stroke="#333" stroke-width="1.3"/>
<text x="476.4" y="215.9" font-size="8.5" text-anchor="middle" fill="#2b2b2b" stroke="#2b2b2b" stroke-width="0.12" textLength="21.4" lengthAdjust="spacingAndGlyphs">THP-1</text>
<text x="382.1" y="251.64" font-size="8.5" text-anchor="middle" fill="#2b2b2b" stroke="#2b2b2b" stroke-width="0.12">**</text>
<text x="395" y="266.53" font-size="8.5" text-anchor="middle" fill="#2b2b2b" stroke="#2b2b2b" stroke-width="0.12">**</text>
<text x="429.1" y="236.24" font-size="8.5" text-anchor="middle" fill="#2b2b2b" stroke="#2b2b2b" stroke-width="0.12">*</text>
<text x="442" y="238.53" font-size="8.5" text-anchor="middle" fill="#2b2b2b" stroke="#2b2b2b" stroke-width="0.12">**</text>
<text x="476.4" y="238.24" font-size="8.5" text-anchor="middle" fill="#2b2b2b" stroke="#2b2b2b" stroke-width="0.12">*</text>
<text x="489.3" y="244.44" font-size="8.5" text-anchor="middle" fill="#2b2b2b" stroke="#2b2b2b" stroke-width="0.12">*</text>
<text x="429" y="326.8" font-size="8.8" text-anchor="middle" fill="#2b2b2b" stroke="#2b2b2b" stroke-width="0.12" textLength="58" lengthAdjust="spacingAndGlyphs">CFI-400945 (nM)</text>
<text x="334.4" y="255.3" font-size="8.9" text-anchor="middle" fill="#2b2b2b" stroke="#2b2b2b" stroke-width="0.12" textLength="53.6" lengthAdjust="spacingAndGlyphs" transform="rotate(-90 334.4 255.3)">Cell viability (%)</text>
<text x="6.44" y="349" font-size="12.2" fill="#111" font-weight="bold" textLength="9.44" lengthAdjust="spacingAndGlyphs">H</text>
<text x="77.5" y="362.3" font-size="9.4" text-anchor="middle" fill="#2b2b2b" stroke="#2b2b2b" stroke-width="0.12" textLength="21.6" lengthAdjust="spacingAndGlyphs">Day4</text>
<rect x="59.2" y="399" width="15.9" height="62.3" fill="#7b93c7"/>
<rect x="85.2" y="380.8" width="15.9" height="80.5" fill="#e68a7c"/>
<line x1="49.6" y1="367.7" x2="49.6" y2="461.3" stroke="#2e2e2e" stroke-width="1.4"/>
<line x1="46.9" y1="461.3" x2="49.6" y2="461.3" stroke="#2e2e2e" stroke-width="1.4"/>
<text x="43.7" y="464.19" font-size="8.4" text-anchor="end" fill="#2b2b2b" stroke="#2b2b2b" stroke-width="0.12" textLength="10.74" lengthAdjust="spacingAndGlyphs">0.0</text>
<line x1="46.9" y1="443.03" x2="49.6" y2="443.03" stroke="#2e2e2e" stroke-width="1.4"/>
<text x="43.7" y="445.92" font-size="8.4" text-anchor="end" fill="#2b2b2b" stroke="#2b2b2b" stroke-width="0.12" textLength="10.74" lengthAdjust="spacingAndGlyphs">0.2</text>
<line x1="46.9" y1="424.76" x2="49.6" y2="424.76" stroke="#2e2e2e" stroke-width="1.4"/>
<text x="43.7" y="427.65" font-size="8.4" text-anchor="end" fill="#2b2b2b" stroke="#2b2b2b" stroke-width="0.12" textLength="10.74" lengthAdjust="spacingAndGlyphs">0.4</text>
<line x1="46.9" y1="406.49" x2="49.6" y2="406.49" stroke="#2e2e2e" stroke-width="1.4"/>
<text x="43.7" y="409.38" font-size="8.4" text-anchor="end" fill="#2b2b2b" stroke="#2b2b2b" stroke-width="0.12" textLength="10.74" lengthAdjust="spacingAndGlyphs">0.6</text>
<line x1="46.9" y1="388.22" x2="49.6" y2="388.22" stroke="#2e2e2e" stroke-width="1.4"/>
<text x="43.7" y="391.11" font-size="8.4" text-anchor="end" fill="#2b2b2b" stroke="#2b2b2b" stroke-width="0.12" textLength="10.74" lengthAdjust="spacingAndGlyphs">0.8</text>
<line x1="46.9" y1="369.95" x2="49.6" y2="369.95" stroke="#2e2e2e" stroke-width="1.4"/>
<text x="43.7" y="372.84" font-size="8.4" text-anchor="end" fill="#2b2b2b" stroke="#2b2b2b" stroke-width="0.12" textLength="10.74" lengthAdjust="spacingAndGlyphs">1.0</text>
<line x1="48.9" y1="461.3" x2="110" y2="461.3" stroke="#333" stroke-width="1.4"/>
<line x1="67.1" y1="461.3" x2="67.1" y2="464" stroke="#333" stroke-width="1.1"/>
<line x1="93.1" y1="461.3" x2="93.1" y2="464" stroke="#333" stroke-width="1.1"/>
<line x1="67.1" y1="393.6" x2="67.1" y2="402.5" stroke="#1b3b6f" stroke-width="1"/>
<line x1="62.9" y1="393.6" x2="71.3" y2="393.6" stroke="#1b3b6f" stroke-width="1"/>
<line x1="62.9" y1="402.5" x2="71.3" y2="402.5" stroke="#1b3b6f" stroke-width="1"/>
<circle cx="67.1" cy="388.5" r="1.3" fill="#1b3b6f"/>
<circle cx="63.9" cy="395.4" r="1.3" fill="#1b3b6f"/>
<circle cx="70.2" cy="397.8" r="1.3" fill="#1b3b6f"/>
<circle cx="67.1" cy="411.2" r="1.3" fill="#1b3b6f"/>
<rect x="89.2" y="373.8" width="2.4" height="2.4" fill="#bc0f2b"/>
<rect x="94.9" y="374.9" width="2.4" height="2.4" fill="#bc0f2b"/>
<rect x="89.2" y="376.7" width="2.4" height="2.4" fill="#bc0f2b"/>
<rect x="92.1" y="377.6" width="2.4" height="2.4" fill="#bc0f2b"/>
<rect x="89.2" y="379.6" width="2.4" height="2.4" fill="#bc0f2b"/>
<rect x="94.9" y="380.9" width="2.4" height="2.4" fill="#bc0f2b"/>
<rect x="92.1" y="385.1" width="2.4" height="2.4" fill="#bc0f2b"/>
<circle cx="93.2" cy="370.4" r="1.1" fill="#333"/>
<text x="67" y="474.1" font-size="8.4" text-anchor="middle" fill="#2b2b2b" stroke="#2b2b2b" stroke-width="0.12" textLength="12.3" lengthAdjust="spacingAndGlyphs">WT</text>
<text x="93.1" y="474.1" font-size="8.4" text-anchor="middle" fill="#2b2b2b" stroke="#2b2b2b" stroke-width="0.12" textLength="14.6" lengthAdjust="spacingAndGlyphs">Mut</text>
<text x="27" y="413.8" font-size="8.9" text-anchor="middle" fill="#2b2b2b" stroke="#2b2b2b" stroke-width="0.12" textLength="55" lengthAdjust="spacingAndGlyphs" transform="rotate(-90 27 413.8)">Normalized AUC</text>
<text x="124.19" y="349.2" font-size="12.2" fill="#111" font-weight="bold" textLength="3.83" lengthAdjust="spacingAndGlyphs">I</text>
<text x="232.6" y="362.3" font-size="9.4" text-anchor="middle" fill="#2b2b2b" stroke="#2b2b2b" stroke-width="0.12" textLength="21.6" lengthAdjust="spacingAndGlyphs">Day4</text>
<line x1="163.8" y1="370.4" x2="163.8" y2="461.4" stroke="#2e2e2e" stroke-width="1.4"/>
<line x1="161" y1="390.9" x2="163.8" y2="390.9" stroke="#2e2e2e" stroke-width="1.4"/>
<text x="157.9" y="393.79" font-size="8.4" text-anchor="end" fill="#2b2b2b" stroke="#2b2b2b" stroke-width="0.12" textLength="12.89" lengthAdjust="spacingAndGlyphs">100</text>
<line x1="161" y1="426.2" x2="163.8" y2="426.2" stroke="#2e2e2e" stroke-width="1.4"/>
<text x="157.9" y="429.09" font-size="8.4" text-anchor="end" fill="#2b2b2b" stroke="#2b2b2b" stroke-width="0.12" textLength="8.59" lengthAdjust="spacingAndGlyphs">50</text>
<line x1="161" y1="461.4" x2="163.8" y2="461.4" stroke="#2e2e2e" stroke-width="1.4"/>
<text x="157.9" y="464.29" font-size="8.4" text-anchor="end" fill="#2b2b2b" stroke="#2b2b2b" stroke-width="0.12" textLength="4.3" lengthAdjust="spacingAndGlyphs">0</text>
<line x1="163.1" y1="461.4" x2="301.4" y2="461.4" stroke="#333" stroke-width="1.4"/>
<line x1="172.8" y1="384" x2="172.8" y2="392.9" stroke="#1c4e8f" stroke-width="1.1"/>
<line x1="170.6" y1="384" x2="175" y2="384" stroke="#1c4e8f" stroke-width="1.1"/>
<rect x="169.4" y="391.9" width="6.8" height="69.5" fill="#1c4e8f"/>
<line x1="172.8" y1="461.4" x2="172.8" y2="464" stroke="#333" stroke-width="1.1"/>
<text x="172.8" y="474.89" font-size="8.4" text-anchor="middle" fill="#2b2b2b" stroke="#2b2b2b" stroke-width="0.12" textLength="4.3" lengthAdjust="spacingAndGlyphs">0</text>
<line x1="185.7" y1="416.2" x2="185.7" y2="423" stroke="#1c4e8f" stroke-width="1.1"/>
<line x1="183.5" y1="416.2" x2="187.9" y2="416.2" stroke="#1c4e8f" stroke-width="1.1"/>
<rect x="182.3" y="422" width="6.8" height="39.4" fill="#1c4e8f"/>
<line x1="185.7" y1="461.4" x2="185.7" y2="464" stroke="#333" stroke-width="1.1"/>
<text x="185.7" y="474.89" font-size="8.4" text-anchor="middle" fill="#2b2b2b" stroke="#2b2b2b" stroke-width="0.12" textLength="4.3" lengthAdjust="spacingAndGlyphs">5</text>
<line x1="198.6" y1="437.7" x2="198.6" y2="444.5" stroke="#1c4e8f" stroke-width="1.1"/>
<line x1="196.4" y1="437.7" x2="200.8" y2="437.7" stroke="#1c4e8f" stroke-width="1.1"/>
<rect x="195.2" y="443.5" width="6.8" height="17.9" fill="#1c4e8f"/>
<line x1="198.6" y1="461.4" x2="198.6" y2="464" stroke="#333" stroke-width="1.1"/>
<text x="198.6" y="474.89" font-size="8.4" text-anchor="middle" fill="#2b2b2b" stroke="#2b2b2b" stroke-width="0.12" textLength="8.59" lengthAdjust="spacingAndGlyphs">10</text>
<line x1="169.4" y1="379" x2="202" y2="379" stroke="#333" stroke-width="1.2"/>
<text x="185.7" y="376.2" font-size="8.5" text-anchor="middle" fill="#2b2b2b" stroke="#2b2b2b" stroke-width="0.12" textLength="15.5" lengthAdjust="spacingAndGlyphs">ML2</text>
<line x1="219.9" y1="388.7" x2="219.9" y2="392.9" stroke="#d0112b" stroke-width="1.1"/>
<line x1="217.7" y1="388.7" x2="222.1" y2="388.7" stroke="#d0112b" stroke-width="1.1"/>
<rect x="216.5" y="391.9" width="6.8" height="69.5" fill="#d0112b"/>
<line x1="219.9" y1="461.4" x2="219.9" y2="464" stroke="#333" stroke-width="1.1"/>
<text x="219.9" y="474.89" font-size="8.4" text-anchor="middle" fill="#2b2b2b" stroke="#2b2b2b" stroke-width="0.12" textLength="4.3" lengthAdjust="spacingAndGlyphs">0</text>
<line x1="232.8" y1="402.3" x2="232.8" y2="405.4" stroke="#d0112b" stroke-width="1.1"/>
<line x1="230.6" y1="402.3" x2="235" y2="402.3" stroke="#d0112b" stroke-width="1.1"/>
<rect x="229.4" y="404.4" width="6.8" height="57" fill="#d0112b"/>
<line x1="232.8" y1="461.4" x2="232.8" y2="464" stroke="#333" stroke-width="1.1"/>
<text x="232.8" y="474.89" font-size="8.4" text-anchor="middle" fill="#2b2b2b" stroke="#2b2b2b" stroke-width="0.12" textLength="4.3" lengthAdjust="spacingAndGlyphs">5</text>
<line x1="245.7" y1="423.5" x2="245.7" y2="427.8" stroke="#d0112b" stroke-width="1.1"/>
<line x1="243.5" y1="423.5" x2="247.9" y2="423.5" stroke="#d0112b" stroke-width="1.1"/>
<rect x="242.3" y="426.8" width="6.8" height="34.6" fill="#d0112b"/>
<line x1="245.7" y1="461.4" x2="245.7" y2="464" stroke="#333" stroke-width="1.1"/>
<text x="245.7" y="474.89" font-size="8.4" text-anchor="middle" fill="#2b2b2b" stroke="#2b2b2b" stroke-width="0.12" textLength="8.59" lengthAdjust="spacingAndGlyphs">10</text>
<line x1="216.5" y1="379" x2="249.1" y2="379" stroke="#333" stroke-width="1.2"/>
<text x="232.8" y="376.2" font-size="8.5" text-anchor="middle" fill="#2b2b2b" stroke="#2b2b2b" stroke-width="0.12" textLength="25" lengthAdjust="spacingAndGlyphs">D259N</text>
<line x1="266.75" y1="389.8" x2="266.75" y2="392.9" stroke="#39a935" stroke-width="1.1"/>
<line x1="264.55" y1="389.8" x2="268.95" y2="389.8" stroke="#39a935" stroke-width="1.1"/>
<rect x="263.35" y="391.9" width="6.8" height="69.5" fill="#39a935"/>
<line x1="266.75" y1="461.4" x2="266.75" y2="464" stroke="#333" stroke-width="1.1"/>
<text x="266.75" y="474.89" font-size="8.4" text-anchor="middle" fill="#2b2b2b" stroke="#2b2b2b" stroke-width="0.12" textLength="4.3" lengthAdjust="spacingAndGlyphs">0</text>
<line x1="279.65" y1="400.1" x2="279.65" y2="403.3" stroke="#39a935" stroke-width="1.1"/>
<line x1="277.45" y1="400.1" x2="281.85" y2="400.1" stroke="#39a935" stroke-width="1.1"/>
<rect x="276.25" y="402.3" width="6.8" height="59.1" fill="#39a935"/>
<line x1="279.65" y1="461.4" x2="279.65" y2="464" stroke="#333" stroke-width="1.1"/>
<text x="279.65" y="474.89" font-size="8.4" text-anchor="middle" fill="#2b2b2b" stroke="#2b2b2b" stroke-width="0.12" textLength="4.3" lengthAdjust="spacingAndGlyphs">5</text>
<line x1="292.55" y1="417.7" x2="292.55" y2="422" stroke="#39a935" stroke-width="1.1"/>
<line x1="290.35" y1="417.7" x2="294.75" y2="417.7" stroke="#39a935" stroke-width="1.1"/>
<rect x="289.15" y="421" width="6.8" height="40.4" fill="#39a935"/>
<line x1="292.55" y1="461.4" x2="292.55" y2="464" stroke="#333" stroke-width="1.1"/>
<text x="292.55" y="474.89" font-size="8.4" text-anchor="middle" fill="#2b2b2b" stroke="#2b2b2b" stroke-width="0.12" textLength="8.59" lengthAdjust="spacingAndGlyphs">10</text>
<line x1="263.35" y1="379" x2="295.95" y2="379" stroke="#333" stroke-width="1.2"/>
<text x="279.65" y="376.2" font-size="8.5" text-anchor="middle" fill="#2b2b2b" stroke="#2b2b2b" stroke-width="0.12" textLength="23" lengthAdjust="spacingAndGlyphs">R280K</text>
<text x="185.7" y="411.94" font-size="8.5" text-anchor="middle" fill="#2b2b2b" stroke="#2b2b2b" stroke-width="0.12">**</text>
<text x="198.6" y="426.33" font-size="8.5" text-anchor="middle" fill="#2b2b2b" stroke="#2b2b2b" stroke-width="0.12">**</text>
<text x="232.8" y="393.95" font-size="7.4" text-anchor="middle" fill="#2b2b2b" stroke="#2b2b2b" stroke-width="0.12">ns</text>
<text x="245.7" y="399.33" font-size="8.5" text-anchor="middle" fill="#2b2b2b" stroke="#2b2b2b" stroke-width="0.12">**</text>
<text x="279.65" y="398.83" font-size="8.5" text-anchor="middle" fill="#2b2b2b" stroke="#2b2b2b" stroke-width="0.12">*</text>
<text x="292.55" y="401.23" font-size="8.5" text-anchor="middle" fill="#2b2b2b" stroke="#2b2b2b" stroke-width="0.12">**</text>
<text x="233" y="487" font-size="8.8" text-anchor="middle" fill="#2b2b2b" stroke="#2b2b2b" stroke-width="0.12" textLength="58" lengthAdjust="spacingAndGlyphs">CFI-400945 (nM)</text>
<text x="138.5" y="415.7" font-size="8.9" text-anchor="middle" fill="#2b2b2b" stroke="#2b2b2b" stroke-width="0.12" textLength="53.8" lengthAdjust="spacingAndGlyphs" transform="rotate(-90 138.5 415.7)">Cell viability (%)</text>
<text x="315.14" y="349.1" font-size="12.2" fill="#111" font-weight="bold" textLength="6.11" lengthAdjust="spacingAndGlyphs">J</text>
<line x1="352.5" y1="367" x2="352.5" y2="460.8" stroke="#2e2e2e" stroke-width="1.4"/>
<line x1="349.7" y1="460.8" x2="352.5" y2="460.8" stroke="#2e2e2e" stroke-width="1.4"/>
<text x="346.6" y="463.69" font-size="8.4" text-anchor="end" fill="#2b2b2b" stroke="#2b2b2b" stroke-width="0.12" textLength="4.3" lengthAdjust="spacingAndGlyphs">0</text>
<line x1="349.7" y1="442.5" x2="352.5" y2="442.5" stroke="#2e2e2e" stroke-width="1.4"/>
<text x="346.6" y="445.39" font-size="8.4" text-anchor="end" fill="#2b2b2b" stroke="#2b2b2b" stroke-width="0.12" textLength="8.59" lengthAdjust="spacingAndGlyphs">10</text>
<line x1="349.7" y1="424.2" x2="352.5" y2="424.2" stroke="#2e2e2e" stroke-width="1.4"/>
<text x="346.6" y="427.09" font-size="8.4" text-anchor="end" fill="#2b2b2b" stroke="#2b2b2b" stroke-width="0.12" textLength="8.59" lengthAdjust="spacingAndGlyphs">20</text>
<line x1="349.7" y1="405.9" x2="352.5" y2="405.9" stroke="#2e2e2e" stroke-width="1.4"/>
<text x="346.6" y="408.79" font-size="8.4" text-anchor="end" fill="#2b2b2b" stroke="#2b2b2b" stroke-width="0.12" textLength="8.59" lengthAdjust="spacingAndGlyphs">30</text>
<line x1="349.7" y1="387.6" x2="352.5" y2="387.6" stroke="#2e2e2e" stroke-width="1.4"/>
<text x="346.6" y="390.49" font-size="8.4" text-anchor="end" fill="#2b2b2b" stroke="#2b2b2b" stroke-width="0.12" textLength="8.59" lengthAdjust="spacingAndGlyphs">40</text>
<line x1="349.7" y1="369.3" x2="352.5" y2="369.3" stroke="#2e2e2e" stroke-width="1.4"/>
<text x="346.6" y="372.19" font-size="8.4" text-anchor="end" fill="#2b2b2b" stroke="#2b2b2b" stroke-width="0.12" textLength="8.59" lengthAdjust="spacingAndGlyphs">50</text>
<line x1="351.8" y1="460.8" x2="511" y2="460.8" stroke="#333" stroke-width="1.4"/>
<line x1="361.1" y1="457.4" x2="361.1" y2="460.3" stroke="#1c4e8f" stroke-width="1.1"/>
<line x1="359.1" y1="457.4" x2="363.1" y2="457.4" stroke="#1c4e8f" stroke-width="1.1"/>
<rect x="358" y="459.3" width="6.2" height="1.5" fill="#1c4e8f"/>
<line x1="361.1" y1="460.8" x2="361.1" y2="463.4" stroke="#333" stroke-width="1.1"/>
<text x="361.1" y="474.19" font-size="8.4" text-anchor="middle" fill="#2b2b2b" stroke="#2b2b2b" stroke-width="0.12" textLength="4.3" lengthAdjust="spacingAndGlyphs">0</text>
<line x1="373.5" y1="437" x2="373.5" y2="442.1" stroke="#1c4e8f" stroke-width="1.1"/>
<line x1="371.5" y1="437" x2="375.5" y2="437" stroke="#1c4e8f" stroke-width="1.1"/>
<rect x="370.4" y="441.1" width="6.2" height="19.7" fill="#1c4e8f"/>
<line x1="373.5" y1="460.8" x2="373.5" y2="463.4" stroke="#333" stroke-width="1.1"/>
<text x="373.5" y="474.19" font-size="8.4" text-anchor="middle" fill="#2b2b2b" stroke="#2b2b2b" stroke-width="0.12" textLength="8.59" lengthAdjust="spacingAndGlyphs">10</text>
<line x1="358" y1="376.8" x2="376.6" y2="376.8" stroke="#333" stroke-width="1.2"/>
<text x="367.3" y="373.6" font-size="8.5" text-anchor="middle" fill="#2b2b2b" stroke="#2b2b2b" stroke-width="0.12" textLength="18.7" lengthAdjust="spacingAndGlyphs">K052</text>
<line x1="393.6" y1="457.2" x2="393.6" y2="460" stroke="#d0112b" stroke-width="1.1"/>
<line x1="391.6" y1="457.2" x2="395.6" y2="457.2" stroke="#d0112b" stroke-width="1.1"/>
<rect x="390.5" y="459" width="6.2" height="1.8" fill="#d0112b"/>
<line x1="393.6" y1="460.8" x2="393.6" y2="463.4" stroke="#333" stroke-width="1.1"/>
<text x="393.6" y="474.19" font-size="8.4" text-anchor="middle" fill="#2b2b2b" stroke="#2b2b2b" stroke-width="0.12" textLength="4.3" lengthAdjust="spacingAndGlyphs">0</text>
<line x1="406.5" y1="422.4" x2="406.5" y2="428.6" stroke="#d0112b" stroke-width="1.1"/>
<line x1="404.5" y1="422.4" x2="408.5" y2="422.4" stroke="#d0112b" stroke-width="1.1"/>
<rect x="403.4" y="427.6" width="6.2" height="33.2" fill="#d0112b"/>
<line x1="406.5" y1="460.8" x2="406.5" y2="463.4" stroke="#333" stroke-width="1.1"/>
<text x="406.5" y="474.19" font-size="8.4" text-anchor="middle" fill="#2b2b2b" stroke="#2b2b2b" stroke-width="0.12" textLength="8.59" lengthAdjust="spacingAndGlyphs">10</text>
<line x1="390.5" y1="376.8" x2="409.6" y2="376.8" stroke="#333" stroke-width="1.2"/>
<text x="400.05" y="373.6" font-size="8.5" text-anchor="middle" fill="#2b2b2b" stroke="#2b2b2b" stroke-width="0.12" textLength="21.4" lengthAdjust="spacingAndGlyphs">THP-1</text>
<line x1="426.6" y1="452.5" x2="426.6" y2="456.2" stroke="#39a935" stroke-width="1.1"/>
<line x1="424.6" y1="452.5" x2="428.6" y2="452.5" stroke="#39a935" stroke-width="1.1"/>
<rect x="423.5" y="455.2" width="6.2" height="5.6" fill="#39a935"/>
<line x1="426.6" y1="460.8" x2="426.6" y2="463.4" stroke="#333" stroke-width="1.1"/>
<text x="426.6" y="474.19" font-size="8.4" text-anchor="middle" fill="#2b2b2b" stroke="#2b2b2b" stroke-width="0.12" textLength="4.3" lengthAdjust="spacingAndGlyphs">0</text>
<line x1="439" y1="392.3" x2="439" y2="395" stroke="#39a935" stroke-width="1.1"/>
<line x1="437" y1="392.3" x2="441" y2="392.3" stroke="#39a935" stroke-width="1.1"/>
<rect x="435.9" y="394" width="6.2" height="66.8" fill="#39a935"/>
<line x1="439" y1="460.8" x2="439" y2="463.4" stroke="#333" stroke-width="1.1"/>
<text x="439" y="474.19" font-size="8.4" text-anchor="middle" fill="#2b2b2b" stroke="#2b2b2b" stroke-width="0.12" textLength="8.59" lengthAdjust="spacingAndGlyphs">10</text>
<line x1="423.5" y1="376.8" x2="442.1" y2="376.8" stroke="#333" stroke-width="1.2"/>
<text x="432.8" y="373.6" font-size="8.5" text-anchor="middle" fill="#2b2b2b" stroke="#2b2b2b" stroke-width="0.12" textLength="15.5" lengthAdjust="spacingAndGlyphs">ML2</text>
<line x1="459.2" y1="456.4" x2="459.2" y2="458.7" stroke="#5c1a6c" stroke-width="1.1"/>
<line x1="457.2" y1="456.4" x2="461.2" y2="456.4" stroke="#5c1a6c" stroke-width="1.1"/>
<rect x="456.1" y="457.7" width="6.2" height="3.1" fill="#5c1a6c"/>
<line x1="459.2" y1="460.8" x2="459.2" y2="463.4" stroke="#333" stroke-width="1.1"/>
<text x="459.2" y="474.19" font-size="8.4" text-anchor="middle" fill="#2b2b2b" stroke="#2b2b2b" stroke-width="0.12" textLength="4.3" lengthAdjust="spacingAndGlyphs">0</text>
<line x1="471.8" y1="425.1" x2="471.8" y2="431.1" stroke="#5c1a6c" stroke-width="1.1"/>
<line x1="469.8" y1="425.1" x2="473.8" y2="425.1" stroke="#5c1a6c" stroke-width="1.1"/>
<rect x="468.7" y="430.1" width="6.2" height="30.7" fill="#5c1a6c"/>
<line x1="471.8" y1="460.8" x2="471.8" y2="463.4" stroke="#333" stroke-width="1.1"/>
<text x="471.8" y="474.19" font-size="8.4" text-anchor="middle" fill="#2b2b2b" stroke="#2b2b2b" stroke-width="0.12" textLength="8.59" lengthAdjust="spacingAndGlyphs">10</text>
<line x1="456.1" y1="376.8" x2="474.9" y2="376.8" stroke="#333" stroke-width="1.2"/>
<text x="465.5" y="373.6" font-size="8.5" text-anchor="middle" fill="#2b2b2b" stroke="#2b2b2b" stroke-width="0.12" textLength="25" lengthAdjust="spacingAndGlyphs">D259N</text>
<line x1="491.9" y1="454.2" x2="491.9" y2="458.1" stroke="#f49a10" stroke-width="1.1"/>
<line x1="489.9" y1="454.2" x2="493.9" y2="454.2" stroke="#f49a10" stroke-width="1.1"/>
<rect x="488.8" y="457.1" width="6.2" height="3.7" fill="#f49a10"/>
<line x1="491.9" y1="460.8" x2="491.9" y2="463.4" stroke="#333" stroke-width="1.1"/>
<text x="491.9" y="474.19" font-size="8.4" text-anchor="middle" fill="#2b2b2b" stroke="#2b2b2b" stroke-width="0.12" textLength="4.3" lengthAdjust="spacingAndGlyphs">0</text>
<line x1="504.4" y1="428.7" x2="504.4" y2="434.8" stroke="#f49a10" stroke-width="1.1"/>
<line x1="502.4" y1="428.7" x2="506.4" y2="428.7" stroke="#f49a10" stroke-width="1.1"/>
<rect x="501.3" y="433.8" width="6.2" height="27" fill="#f49a10"/>
<line x1="504.4" y1="460.8" x2="504.4" y2="463.4" stroke="#333" stroke-width="1.1"/>
<text x="504.4" y="474.19" font-size="8.4" text-anchor="middle" fill="#2b2b2b" stroke="#2b2b2b" stroke-width="0.12" textLength="8.59" lengthAdjust="spacingAndGlyphs">10</text>
<line x1="488.8" y1="376.8" x2="507.5" y2="376.8" stroke="#333" stroke-width="1.2"/>
<text x="498.15" y="373.6" font-size="8.5" text-anchor="middle" fill="#2b2b2b" stroke="#2b2b2b" stroke-width="0.12" textLength="23" lengthAdjust="spacingAndGlyphs">R280K</text>
<text x="373.5" y="435.63" font-size="8.5" text-anchor="middle" fill="#2b2b2b" stroke="#2b2b2b" stroke-width="0.12">**</text>
<text x="406.5" y="421.13" font-size="8.5" text-anchor="middle" fill="#2b2b2b" stroke="#2b2b2b" stroke-width="0.12">***</text>
<text x="439" y="391.53" font-size="8.5" text-anchor="middle" fill="#2b2b2b" stroke="#2b2b2b" stroke-width="0.12">***</text>
<text x="471.8" y="421.13" font-size="8.5" text-anchor="middle" fill="#2b2b2b" stroke="#2b2b2b" stroke-width="0.12">**</text>
<text x="504.4" y="428.23" font-size="8.5" text-anchor="middle" fill="#2b2b2b" stroke="#2b2b2b" stroke-width="0.12">**</text>
<text x="433" y="487.1" font-size="8.8" text-anchor="middle" fill="#2b2b2b" stroke="#2b2b2b" stroke-width="0.12" textLength="58" lengthAdjust="spacingAndGlyphs">CFI-400945 (nM)</text>
<text x="332.1" y="416.2" font-size="8.9" text-anchor="middle" fill="#2b2b2b" stroke="#2b2b2b" stroke-width="0.12" textLength="56.4" lengthAdjust="spacingAndGlyphs" transform="rotate(-90 332.1 416.2)">Apoptotic cells (%)</text>
<text x="6.51" y="506.7" font-size="12.2" fill="#111" font-weight="bold" textLength="8.59" lengthAdjust="spacingAndGlyphs">K</text>
<rect x="53.6" y="564.6" width="17.7" height="50.9" fill="#7b93c7"/>
<rect x="83" y="602.9" width="17.6" height="12.6" fill="#e68a7c"/>
<line x1="42.6" y1="521.5" x2="42.6" y2="615.5" stroke="#2e2e2e" stroke-width="1.4"/>
<line x1="39.9" y1="523.9" x2="42.6" y2="523.9" stroke="#2e2e2e" stroke-width="1.4"/>
<text x="36.7" y="526.79" font-size="8.4" text-anchor="end" fill="#2b2b2b" stroke="#2b2b2b" stroke-width="0.12" textLength="4.3" lengthAdjust="spacingAndGlyphs">6</text>
<line x1="39.9" y1="554.4" x2="42.6" y2="554.4" stroke="#2e2e2e" stroke-width="1.4"/>
<text x="36.7" y="557.29" font-size="8.4" text-anchor="end" fill="#2b2b2b" stroke="#2b2b2b" stroke-width="0.12" textLength="4.3" lengthAdjust="spacingAndGlyphs">4</text>
<line x1="39.9" y1="585" x2="42.6" y2="585" stroke="#2e2e2e" stroke-width="1.4"/>
<text x="36.7" y="587.89" font-size="8.4" text-anchor="end" fill="#2b2b2b" stroke="#2b2b2b" stroke-width="0.12" textLength="4.3" lengthAdjust="spacingAndGlyphs">2</text>
<line x1="39.9" y1="615.5" x2="42.6" y2="615.5" stroke="#2e2e2e" stroke-width="1.4"/>
<text x="36.7" y="618.39" font-size="8.4" text-anchor="end" fill="#2b2b2b" stroke="#2b2b2b" stroke-width="0.12" textLength="4.3" lengthAdjust="spacingAndGlyphs">0</text>
<line x1="41.9" y1="615.5" x2="111" y2="615.5" stroke="#333" stroke-width="1.4"/>
<line x1="62.4" y1="615.5" x2="62.4" y2="618.2" stroke="#333" stroke-width="1.1"/>
<line x1="91.8" y1="615.5" x2="91.8" y2="618.2" stroke="#333" stroke-width="1.1"/>
<line x1="62.4" y1="554.5" x2="62.4" y2="573.6" stroke="#1b3b6f" stroke-width="1"/>
<line x1="57.9" y1="554.5" x2="66.9" y2="554.5" stroke="#1b3b6f" stroke-width="1"/>
<line x1="57.9" y1="573.6" x2="66.9" y2="573.6" stroke="#1b3b6f" stroke-width="1"/>
<circle cx="62.4" cy="540.4" r="1.3" fill="#1b3b6f"/>
<circle cx="62.4" cy="556" r="1.3" fill="#1b3b6f"/>
<circle cx="59.5" cy="579.1" r="1.3" fill="#1b3b6f"/>
<circle cx="65.2" cy="579.1" r="1.3" fill="#1b3b6f"/>
<line x1="91.8" y1="597.8" x2="91.8" y2="606.1" stroke="#b8102a" stroke-width="1"/>
<line x1="87.2" y1="597.8" x2="96.4" y2="597.8" stroke="#b8102a" stroke-width="1"/>
<line x1="87.2" y1="606.1" x2="96.4" y2="606.1" stroke="#b8102a" stroke-width="1"/>
<rect x="90.6" y="590.1" width="2.4" height="2.4" fill="#bc0f2b"/>
<rect x="90.6" y="599.3" width="2.4" height="2.4" fill="#bc0f2b"/>
<rect x="90.6" y="605.6" width="2.4" height="2.4" fill="#bc0f2b"/>
<rect x="90.6" y="608.8" width="2.4" height="2.4" fill="#bc0f2b"/>
<circle cx="91.7" cy="553.5" r="1.1" fill="#333"/>
<text x="62.3" y="628.4" font-size="8.4" text-anchor="middle" fill="#2b2b2b" stroke="#2b2b2b" stroke-width="0.12" textLength="12.3" lengthAdjust="spacingAndGlyphs">WT</text>
<text x="91.5" y="628.4" font-size="8.4" text-anchor="middle" fill="#2b2b2b" stroke="#2b2b2b" stroke-width="0.12" textLength="14.6" lengthAdjust="spacingAndGlyphs">Mut</text>
<text x="26.6" y="568.2" font-size="8.9" text-anchor="middle" fill="#2b2b2b" stroke="#2b2b2b" stroke-width="0.12" textLength="80.8" lengthAdjust="spacingAndGlyphs" transform="rotate(-90 26.6 568.2)">Apoptosis induction (%)</text>
<text x="147.03" y="506.5" font-size="12.2" fill="#111" font-weight="bold" textLength="7.12" lengthAdjust="spacingAndGlyphs">L</text>
<line x1="181.4" y1="521.5" x2="181.4" y2="615.6" stroke="#2e2e2e" stroke-width="1.4"/>
<line x1="178.6" y1="615.6" x2="181.4" y2="615.6" stroke="#2e2e2e" stroke-width="1.4"/>
<text x="175.5" y="618.49" font-size="8.4" text-anchor="end" fill="#2b2b2b" stroke="#2b2b2b" stroke-width="0.12" textLength="4.3" lengthAdjust="spacingAndGlyphs">0</text>
<line x1="178.6" y1="597.22" x2="181.4" y2="597.22" stroke="#2e2e2e" stroke-width="1.4"/>
<text x="175.5" y="600.11" font-size="8.4" text-anchor="end" fill="#2b2b2b" stroke="#2b2b2b" stroke-width="0.12" textLength="4.3" lengthAdjust="spacingAndGlyphs">1</text>
<line x1="178.6" y1="578.84" x2="181.4" y2="578.84" stroke="#2e2e2e" stroke-width="1.4"/>
<text x="175.5" y="581.73" font-size="8.4" text-anchor="end" fill="#2b2b2b" stroke="#2b2b2b" stroke-width="0.12" textLength="4.3" lengthAdjust="spacingAndGlyphs">2</text>
<line x1="178.6" y1="560.46" x2="181.4" y2="560.46" stroke="#2e2e2e" stroke-width="1.4"/>
<text x="175.5" y="563.35" font-size="8.4" text-anchor="end" fill="#2b2b2b" stroke="#2b2b2b" stroke-width="0.12" textLength="4.3" lengthAdjust="spacingAndGlyphs">3</text>
<line x1="178.6" y1="542.08" x2="181.4" y2="542.08" stroke="#2e2e2e" stroke-width="1.4"/>
<text x="175.5" y="544.97" font-size="8.4" text-anchor="end" fill="#2b2b2b" stroke="#2b2b2b" stroke-width="0.12" textLength="4.3" lengthAdjust="spacingAndGlyphs">4</text>
<line x1="178.6" y1="523.7" x2="181.4" y2="523.7" stroke="#2e2e2e" stroke-width="1.4"/>
<text x="175.5" y="526.59" font-size="8.4" text-anchor="end" fill="#2b2b2b" stroke="#2b2b2b" stroke-width="0.12" textLength="4.3" lengthAdjust="spacingAndGlyphs">5</text>
<line x1="180.7" y1="615.6" x2="295.7" y2="615.6" stroke="#333" stroke-width="1.4"/>
<line x1="191.1" y1="595.3" x2="191.1" y2="598.8" stroke="#1c4e8f" stroke-width="1.1"/>
<line x1="188.6" y1="595.3" x2="193.6" y2="595.3" stroke="#1c4e8f" stroke-width="1.1"/>
<rect x="186.95" y="597.8" width="8.3" height="17.8" fill="#1c4e8f"/>
<line x1="191.1" y1="615.6" x2="191.1" y2="618.2" stroke="#333" stroke-width="1.1"/>
<text x="191.1" y="628.59" font-size="8.4" text-anchor="middle" fill="#2b2b2b" stroke="#2b2b2b" stroke-width="0.12" textLength="4.3" lengthAdjust="spacingAndGlyphs">0</text>
<line x1="206.1" y1="535" x2="206.1" y2="540.8" stroke="#d0112b" stroke-width="1.1"/>
<line x1="203.6" y1="535" x2="208.6" y2="535" stroke="#d0112b" stroke-width="1.1"/>
<rect x="201.95" y="539.8" width="8.3" height="75.8" fill="#d0112b"/>
<line x1="206.1" y1="615.6" x2="206.1" y2="618.2" stroke="#333" stroke-width="1.1"/>
<text x="206.1" y="628.59" font-size="8.4" text-anchor="middle" fill="#2b2b2b" stroke="#2b2b2b" stroke-width="0.12" textLength="8.59" lengthAdjust="spacingAndGlyphs">10</text>
<line x1="185.6" y1="521.9" x2="211.6" y2="521.9" stroke="#333" stroke-width="1.2"/>
<text x="198.6" y="519" font-size="8.5" text-anchor="middle" fill="#2b2b2b" stroke="#2b2b2b" stroke-width="0.12" textLength="18.7" lengthAdjust="spacingAndGlyphs">K052</text>
<line x1="230.95" y1="593.5" x2="230.95" y2="599" stroke="#1c4e8f" stroke-width="1.1"/>
<line x1="228.45" y1="593.5" x2="233.45" y2="593.5" stroke="#1c4e8f" stroke-width="1.1"/>
<rect x="226.8" y="598" width="8.3" height="17.6" fill="#1c4e8f"/>
<line x1="230.95" y1="615.6" x2="230.95" y2="618.2" stroke="#333" stroke-width="1.1"/>
<text x="230.95" y="628.59" font-size="8.4" text-anchor="middle" fill="#2b2b2b" stroke="#2b2b2b" stroke-width="0.12" textLength="4.3" lengthAdjust="spacingAndGlyphs">0</text>
<line x1="245.85" y1="552.8" x2="245.85" y2="557.8" stroke="#d0112b" stroke-width="1.1"/>
<line x1="243.35" y1="552.8" x2="248.35" y2="552.8" stroke="#d0112b" stroke-width="1.1"/>
<rect x="241.7" y="556.8" width="8.3" height="58.8" fill="#d0112b"/>
<line x1="245.85" y1="615.6" x2="245.85" y2="618.2" stroke="#333" stroke-width="1.1"/>
<text x="245.85" y="628.59" font-size="8.4" text-anchor="middle" fill="#2b2b2b" stroke="#2b2b2b" stroke-width="0.12" textLength="8.59" lengthAdjust="spacingAndGlyphs">10</text>
<line x1="225.45" y1="521.9" x2="251.35" y2="521.9" stroke="#333" stroke-width="1.2"/>
<text x="238.4" y="519" font-size="8.5" text-anchor="middle" fill="#2b2b2b" stroke="#2b2b2b" stroke-width="0.12" textLength="15.5" lengthAdjust="spacingAndGlyphs">ML2</text>
<line x1="270.65" y1="596.2" x2="270.65" y2="599" stroke="#1c4e8f" stroke-width="1.1"/>
<line x1="268.15" y1="596.2" x2="273.15" y2="596.2" stroke="#1c4e8f" stroke-width="1.1"/>
<rect x="266.5" y="598" width="8.3" height="17.6" fill="#1c4e8f"/>
<line x1="270.65" y1="615.6" x2="270.65" y2="618.2" stroke="#333" stroke-width="1.1"/>
<text x="270.65" y="628.59" font-size="8.4" text-anchor="middle" fill="#2b2b2b" stroke="#2b2b2b" stroke-width="0.12" textLength="4.3" lengthAdjust="spacingAndGlyphs">0</text>
<line x1="285.5" y1="540.5" x2="285.5" y2="544.4" stroke="#d0112b" stroke-width="1.1"/>
<line x1="283" y1="540.5" x2="288" y2="540.5" stroke="#d0112b" stroke-width="1.1"/>
<rect x="281.35" y="543.4" width="8.3" height="72.2" fill="#d0112b"/>
<line x1="285.5" y1="615.6" x2="285.5" y2="618.2" stroke="#333" stroke-width="1.1"/>
<text x="285.5" y="628.59" font-size="8.4" text-anchor="middle" fill="#2b2b2b" stroke="#2b2b2b" stroke-width="0.12" textLength="8.59" lengthAdjust="spacingAndGlyphs">10</text>
<line x1="265.15" y1="521.9" x2="291" y2="521.9" stroke="#333" stroke-width="1.2"/>
<text x="278.07" y="519" font-size="8.5" text-anchor="middle" fill="#2b2b2b" stroke="#2b2b2b" stroke-width="0.12" textLength="25" lengthAdjust="spacingAndGlyphs">D259N</text>
<line x1="207" y1="532.6" x2="246" y2="532.6" stroke="#333" stroke-width="1.1"/>
<line x1="245.1" y1="536.5" x2="284.6" y2="536.5" stroke="#333" stroke-width="1.1"/>
<text x="226.7" y="532.13" font-size="8.5" text-anchor="middle" fill="#2b2b2b" stroke="#2b2b2b" stroke-width="0.12">*</text>
<text x="264.6" y="536.63" font-size="8.5" text-anchor="middle" fill="#2b2b2b" stroke="#2b2b2b" stroke-width="0.12">*</text>
<text x="238.9" y="641.6" font-size="8.8" text-anchor="middle" fill="#2b2b2b" stroke="#2b2b2b" stroke-width="0.12" textLength="58" lengthAdjust="spacingAndGlyphs">CFI-400945 (nM)</text>
<text x="166.6" y="569" font-size="8.7" text-anchor="middle" fill="#2b2b2b" stroke="#2b2b2b" stroke-width="0.12" textLength="49.7" lengthAdjust="spacingAndGlyphs" transform="rotate(-90 166.6 569)">γH2AX/GAPDH</text>
<text x="331.15" y="506.5" font-size="12.2" fill="#111" font-weight="bold" textLength="12" lengthAdjust="spacingAndGlyphs">M</text>
<defs>
<filter id="blur1" x="-20%" y="-50%" width="140%" height="200%"><feGaussianBlur stdDeviation="0.9"/></filter>
<filter id="blur2" x="-20%" y="-50%" width="140%" height="200%"><feGaussianBlur stdDeviation="0.6"/></filter>
<linearGradient id="gp53a" x1="0" y1="0" x2="0" y2="1"><stop offset="0" stop-color="#e4e4e4"/><stop offset="0.5" stop-color="#dcdcdc"/><stop offset="1" stop-color="#cdcdcd"/></linearGradient>
<linearGradient id="gp53b" x1="0" y1="0" x2="0" y2="1"><stop offset="0" stop-color="#eeeeee"/><stop offset="1" stop-color="#e2e2e2"/></linearGradient>
<linearGradient id="gmdm" x1="0" y1="0" x2="0" y2="1"><stop offset="0" stop-color="#dedede"/><stop offset="1" stop-color="#e6e6e6"/></linearGradient>
</defs>
<text x="416.7" y="520.5" font-size="8.4" text-anchor="middle" fill="#2b2b2b" stroke="#2b2b2b" stroke-width="0.12" textLength="15.6" lengthAdjust="spacingAndGlyphs">ML2</text>
<text x="474.6" y="520.5" font-size="8.4" text-anchor="middle" fill="#2b2b2b" stroke="#2b2b2b" stroke-width="0.12" textLength="18.2" lengthAdjust="spacingAndGlyphs">K052</text>
<line x1="400.5" y1="523" x2="433.8" y2="523" stroke="#555" stroke-width="1.4"/>
<line x1="457.7" y1="523" x2="491.5" y2="523" stroke="#555" stroke-width="1.4"/>
<text x="345.4" y="531.8" font-size="8.2" fill="#2b2b2b" stroke="#2b2b2b" stroke-width="0.12" textLength="42.2" lengthAdjust="spacingAndGlyphs">CFI-400945</text>
<line x1="400.2" y1="529.6" x2="403.6" y2="529.6" stroke="#333" stroke-width="0.9"/>
<line x1="453.1" y1="529.6" x2="456.3" y2="529.6" stroke="#333" stroke-width="0.9"/>
<polygon points="408.5,533.6 433.8,526.3 433.8,533.6" fill="#111"/>
<polygon points="466.2,533.6 491.5,526.3 491.5,533.6" fill="#111"/>
<text x="415" y="542.4" font-size="7.3" text-anchor="middle" fill="#2b2b2b" stroke="#2b2b2b" stroke-width="0.12" textLength="42.2" lengthAdjust="spacingAndGlyphs">0.26 1.19 1.24</text>
<text x="472.9" y="542.4" font-size="7.3" text-anchor="middle" fill="#2b2b2b" stroke="#2b2b2b" stroke-width="0.12" textLength="41.6" lengthAdjust="spacingAndGlyphs">0.74 1.03 1.31</text>
<text x="416.5" y="575.4" font-size="7.3" text-anchor="middle" fill="#2b2b2b" stroke="#2b2b2b" stroke-width="0.12" textLength="40.8" lengthAdjust="spacingAndGlyphs">0.24 0.45 0.62</text>
<text x="474.4" y="575.4" font-size="7.3" text-anchor="middle" fill="#2b2b2b" stroke="#2b2b2b" stroke-width="0.12" textLength="41" lengthAdjust="spacingAndGlyphs">0.83 0.85 0.87</text>
<text x="392.6" y="558.2" font-size="8.4" text-anchor="end" fill="#2b2b2b" stroke="#2b2b2b" stroke-width="0.12" textLength="13.4" lengthAdjust="spacingAndGlyphs">p53</text>
<text x="384.6" y="591.7" font-size="8.4" text-anchor="end" fill="#2b2b2b" stroke="#2b2b2b" stroke-width="0.12" textLength="24.4" lengthAdjust="spacingAndGlyphs">MDM2</text>
<text x="392.2" y="617.4" font-size="8.4" text-anchor="end" fill="#2b2b2b" stroke="#2b2b2b" stroke-width="0.12" textLength="28" lengthAdjust="spacingAndGlyphs">GAPDH</text>
<rect x="395.7" y="547" width="43.9" height="16.8" fill="url(#gp53a)"/>
<g filter="url(#blur1)"><rect x="410.6" y="555.8" width="10.6" height="6" fill="#555"/><rect x="411.2" y="557" width="5" height="4.5" fill="#2a2a2a"/><rect x="424.4" y="555.6" width="5.4" height="5.6" fill="#333"/><rect x="432.8" y="556.4" width="3" height="4" fill="#aaa"/><rect x="398" y="556" width="9" height="6" fill="#cdcdcd"/></g>
<rect x="453.6" y="547" width="42.4" height="16.8" fill="url(#gp53b)"/>
<g filter="url(#blur2)"><rect x="455" y="555" width="9.5" height="2.7" rx="1.2" fill="#222"/><rect x="467.8" y="554.8" width="10" height="3.1" rx="1.4" fill="#1a1a1a"/><rect x="481.3" y="554.4" width="10" height="3.8" rx="1.8" fill="#111"/></g>
<rect x="395.7" y="582.6" width="43.9" height="16.5" fill="url(#gmdm)"/>
<g filter="url(#blur1)"><rect x="398.9" y="588.3" width="9.6" height="2.4" fill="#bdbdbd"/><rect x="398.9" y="592.8" width="9.6" height="2.4" fill="#c8c8c8"/><rect x="412.8" y="588.3" width="9.6" height="2.4" fill="#bdbdbd"/><rect x="412.8" y="592.8" width="9.6" height="2.4" fill="#c8c8c8"/><rect x="426.2" y="588.3" width="9.6" height="2.4" fill="#bdbdbd"/><rect x="426.2" y="592.8" width="9.6" height="2.4" fill="#c8c8c8"/></g>
<rect x="453.6" y="582.6" width="42.4" height="16.5" fill="#f0f0f0"/>
<rect x="395.7" y="605.5" width="43.9" height="17.6" fill="#e8e8e8"/>
<rect x="453.6" y="605.5" width="42.4" height="17.6" fill="#ebebeb"/>
<g filter="url(#blur1)"><rect x="401.8" y="613.4" width="11" height="4.2" rx="2" fill="#262626"/><rect x="415.4" y="613.6" width="9.6" height="3.8" rx="1.8" fill="#333"/><rect x="428.2" y="613.4" width="10.8" height="4.2" rx="2" fill="#444"/></g>
<g filter="url(#blur2)"><rect x="453.8" y="612.2" width="10.4" height="3.4" rx="1.6" fill="#151515"/><rect x="466.2" y="612" width="10.5" height="3.4" rx="1.6" fill="#151515"/><rect x="478.9" y="611.2" width="11" height="3.6" rx="1.7" fill="#151515"/></g>
<rect x="395.7" y="547" width="43.9" height="16.8" fill="none" stroke="#222" stroke-width="1.1"/>
<rect x="453.6" y="547" width="42.4" height="16.8" fill="none" stroke="#222" stroke-width="1.1"/>
<rect x="395.7" y="582.6" width="43.9" height="16.5" fill="none" stroke="#222" stroke-width="1.1"/>
<rect x="453.6" y="582.6" width="42.4" height="16.5" fill="none" stroke="#222" stroke-width="1.1"/>
<rect x="395.7" y="605.5" width="43.9" height="17.6" fill="none" stroke="#222" stroke-width="1.1"/>
<rect x="453.6" y="605.5" width="42.4" height="17.6" fill="none" stroke="#222" stroke-width="1.1"/>
<line x1="387.9" y1="589.5" x2="395.2" y2="589.5" stroke="#222" stroke-width="0.9"/>
<circle cx="391.2" cy="594.1" r="2.5" fill="none" stroke="#333" stroke-width="0.9"/><line x1="388.6" y1="596.7" x2="393.9" y2="591.5" stroke="#333" stroke-width="0.9"/>
<rect x="0.5" y="0.5" width="519" height="650" fill="none" stroke="#555" stroke-width="1"/>
</svg></body></html>
